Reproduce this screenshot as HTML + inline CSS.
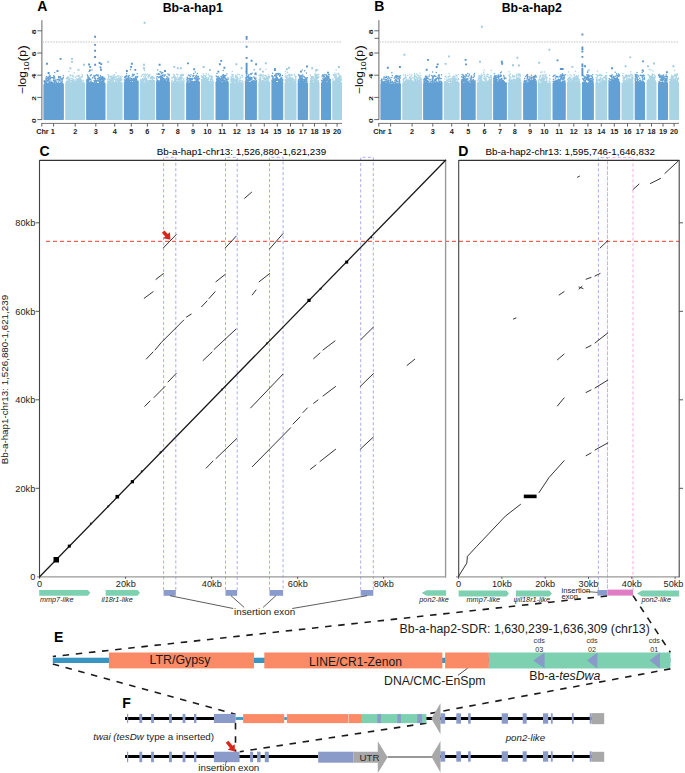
<!DOCTYPE html><html><head><meta charset="utf-8"><style>html,body{margin:0;padding:0;background:#fff;}svg{display:block;}text{font-family:"Liberation Sans",sans-serif;}</style></head><body><svg width="685" height="773" viewBox="0 0 685 773" font-family="Liberation Sans, sans-serif">
<rect width="685" height="773" fill="#fff"/>
<text x="37.2" y="11.2" font-size="14" text-anchor="start" font-weight="bold" font-style="normal" fill="#000" >A</text>
<text x="192.7" y="11.5" font-size="12.3" text-anchor="middle" font-weight="bold" font-style="normal" fill="#000" >Bb-a-hap1</text>
<text x="374.2" y="11.2" font-size="14" text-anchor="start" font-weight="bold" font-style="normal" fill="#000" >B</text>
<text x="531.8" y="11.5" font-size="12.3" text-anchor="middle" font-weight="bold" font-style="normal" fill="#000" >Bb-a-hap2</text>
<line x1="41.9" y1="20.2" x2="41.9" y2="119.8" stroke="#666" stroke-width="1"/>
<line x1="37.3" y1="119.6" x2="41.9" y2="119.6" stroke="#555" stroke-width="0.9"/>
<text transform="translate(35.6,120.6) rotate(-90) scale(1.15,0.6)" font-size="7.4" font-weight="bold" text-anchor="middle" fill="#222">0</text>
<line x1="37.3" y1="97.4" x2="41.9" y2="97.4" stroke="#555" stroke-width="0.9"/>
<text transform="translate(35.6,98.4) rotate(-90) scale(1.15,0.6)" font-size="7.4" font-weight="bold" text-anchor="middle" fill="#222">2</text>
<line x1="37.3" y1="75.2" x2="41.9" y2="75.2" stroke="#555" stroke-width="0.9"/>
<text transform="translate(35.6,76.2) rotate(-90) scale(1.15,0.6)" font-size="7.4" font-weight="bold" text-anchor="middle" fill="#222">4</text>
<line x1="37.3" y1="53" x2="41.9" y2="53" stroke="#555" stroke-width="0.9"/>
<text transform="translate(35.6,54) rotate(-90) scale(1.15,0.6)" font-size="7.4" font-weight="bold" text-anchor="middle" fill="#222">6</text>
<line x1="37.3" y1="30.8" x2="41.9" y2="30.8" stroke="#555" stroke-width="0.9"/>
<text transform="translate(35.6,31.8) rotate(-90) scale(1.15,0.6)" font-size="7.4" font-weight="bold" text-anchor="middle" fill="#222">8</text>
<line x1="42.4" y1="42" x2="342" y2="42" stroke="#c4c4c4" stroke-width="1" stroke-dasharray="1.6,1.1"/>
<line x1="41.3" y1="123.4" x2="342" y2="123.4" stroke="#777" stroke-width="1"/>
<line x1="41.8" y1="123.4" x2="41.8" y2="126.6" stroke="#555" stroke-width="0.9"/>
<rect x="43.4" y="84.1" width="20.5" height="35.8" fill="#63a0d3" rx="0.6"/>
<text x="54.8" y="133.6" font-size="7.3" text-anchor="end" font-weight="bold" font-style="normal" fill="#222" >Chr 1</text>
<line x1="53.6" y1="123.4" x2="53.6" y2="126.6" stroke="#555" stroke-width="0.9"/>
<rect x="65.2" y="83" width="19.9" height="36.9" fill="#a9d4e5" rx="0.6"/>
<text x="75.2" y="133.6" font-size="7.3" text-anchor="middle" font-weight="bold" font-style="normal" fill="#222" >2</text>
<line x1="75.2" y1="123.4" x2="75.2" y2="126.6" stroke="#555" stroke-width="0.9"/>
<rect x="86.1" y="83" width="19.4" height="36.9" fill="#63a0d3" rx="0.6"/>
<text x="95.8" y="133.6" font-size="7.3" text-anchor="middle" font-weight="bold" font-style="normal" fill="#222" >3</text>
<line x1="95.8" y1="123.4" x2="95.8" y2="126.6" stroke="#555" stroke-width="0.9"/>
<rect x="106.8" y="83" width="15.8" height="36.9" fill="#a9d4e5" rx="0.6"/>
<text x="114.7" y="133.6" font-size="7.3" text-anchor="middle" font-weight="bold" font-style="normal" fill="#222" >4</text>
<line x1="114.7" y1="123.4" x2="114.7" y2="126.6" stroke="#555" stroke-width="0.9"/>
<rect x="123.9" y="81.9" width="14.8" height="38" fill="#63a0d3" rx="0.6"/>
<text x="131.3" y="133.6" font-size="7.3" text-anchor="middle" font-weight="bold" font-style="normal" fill="#222" >5</text>
<line x1="131.3" y1="123.4" x2="131.3" y2="126.6" stroke="#555" stroke-width="0.9"/>
<rect x="139.8" y="82.4" width="15.3" height="37.5" fill="#a9d4e5" rx="0.6"/>
<text x="147.4" y="133.6" font-size="7.3" text-anchor="middle" font-weight="bold" font-style="normal" fill="#222" >6</text>
<line x1="147.4" y1="123.4" x2="147.4" y2="126.6" stroke="#555" stroke-width="0.9"/>
<rect x="156.1" y="81.3" width="13.8" height="38.6" fill="#63a0d3" rx="0.6"/>
<text x="163" y="133.6" font-size="7.3" text-anchor="middle" font-weight="bold" font-style="normal" fill="#222" >7</text>
<line x1="163" y1="123.4" x2="163" y2="126.6" stroke="#555" stroke-width="0.9"/>
<rect x="171" y="82.4" width="13.6" height="37.5" fill="#a9d4e5" rx="0.6"/>
<text x="177.8" y="133.6" font-size="7.3" text-anchor="middle" font-weight="bold" font-style="normal" fill="#222" >8</text>
<line x1="177.8" y1="123.4" x2="177.8" y2="126.6" stroke="#555" stroke-width="0.9"/>
<rect x="186.1" y="82.4" width="13.8" height="37.5" fill="#63a0d3" rx="0.6"/>
<text x="193" y="133.6" font-size="7.3" text-anchor="middle" font-weight="bold" font-style="normal" fill="#222" >9</text>
<line x1="193" y1="123.4" x2="193" y2="126.6" stroke="#555" stroke-width="0.9"/>
<rect x="200.9" y="82.4" width="13" height="37.5" fill="#a9d4e5" rx="0.6"/>
<text x="207.4" y="133.6" font-size="7.3" text-anchor="middle" font-weight="bold" font-style="normal" fill="#222" >10</text>
<line x1="207.4" y1="123.4" x2="207.4" y2="126.6" stroke="#555" stroke-width="0.9"/>
<rect x="215.5" y="82.4" width="13.3" height="37.5" fill="#63a0d3" rx="0.6"/>
<text x="222.2" y="133.6" font-size="7.3" text-anchor="middle" font-weight="bold" font-style="normal" fill="#222" >11</text>
<line x1="222.2" y1="123.4" x2="222.2" y2="126.6" stroke="#555" stroke-width="0.9"/>
<rect x="230" y="82.4" width="13.6" height="37.5" fill="#a9d4e5" rx="0.6"/>
<text x="236.8" y="133.6" font-size="7.3" text-anchor="middle" font-weight="bold" font-style="normal" fill="#222" >12</text>
<line x1="236.8" y1="123.4" x2="236.8" y2="126.6" stroke="#555" stroke-width="0.9"/>
<rect x="244.9" y="81.9" width="12" height="38" fill="#63a0d3" rx="0.6"/>
<text x="250.9" y="133.6" font-size="7.3" text-anchor="middle" font-weight="bold" font-style="normal" fill="#222" >13</text>
<line x1="250.9" y1="123.4" x2="250.9" y2="126.6" stroke="#555" stroke-width="0.9"/>
<rect x="258.4" y="82.4" width="11.8" height="37.5" fill="#a9d4e5" rx="0.6"/>
<text x="264.3" y="133.6" font-size="7.3" text-anchor="middle" font-weight="bold" font-style="normal" fill="#222" >14</text>
<line x1="264.3" y1="123.4" x2="264.3" y2="126.6" stroke="#555" stroke-width="0.9"/>
<rect x="271.4" y="81.9" width="11.8" height="38" fill="#63a0d3" rx="0.6"/>
<text x="277.3" y="133.6" font-size="7.3" text-anchor="middle" font-weight="bold" font-style="normal" fill="#222" >15</text>
<line x1="277.3" y1="123.4" x2="277.3" y2="126.6" stroke="#555" stroke-width="0.9"/>
<rect x="284.5" y="82.4" width="12" height="37.5" fill="#a9d4e5" rx="0.6"/>
<text x="290.5" y="133.6" font-size="7.3" text-anchor="middle" font-weight="bold" font-style="normal" fill="#222" >16</text>
<line x1="290.5" y1="123.4" x2="290.5" y2="126.6" stroke="#555" stroke-width="0.9"/>
<rect x="297.7" y="82.4" width="10.3" height="37.5" fill="#63a0d3" rx="0.6"/>
<text x="302.9" y="133.6" font-size="7.3" text-anchor="middle" font-weight="bold" font-style="normal" fill="#222" >17</text>
<line x1="302.9" y1="123.4" x2="302.9" y2="126.6" stroke="#555" stroke-width="0.9"/>
<rect x="309.5" y="82.4" width="10" height="37.5" fill="#a9d4e5" rx="0.6"/>
<text x="314.5" y="133.6" font-size="7.3" text-anchor="middle" font-weight="bold" font-style="normal" fill="#222" >18</text>
<line x1="314.5" y1="123.4" x2="314.5" y2="126.6" stroke="#555" stroke-width="0.9"/>
<rect x="321" y="82.4" width="10" height="37.5" fill="#63a0d3" rx="0.6"/>
<text x="326" y="133.6" font-size="7.3" text-anchor="middle" font-weight="bold" font-style="normal" fill="#222" >19</text>
<line x1="326" y1="123.4" x2="326" y2="126.6" stroke="#555" stroke-width="0.9"/>
<rect x="332.2" y="81.9" width="9.8" height="38" fill="#a9d4e5" rx="0.6"/>
<text x="337.1" y="133.6" font-size="7.3" text-anchor="middle" font-weight="bold" font-style="normal" fill="#222" >20</text>
<line x1="337.1" y1="123.4" x2="337.1" y2="126.6" stroke="#555" stroke-width="0.9"/>
<path d="M59 79.5h0M60.7 82.9h0M58.7 77.5h0M60.3 83.6h0M60.2 77.4h0M60.9 78.5h0M63.3 75.8h0M61.3 78.9h0M59.9 84h0M59.9 80.1h0M61.1 82.5h0M60.7 84h0M59.2 77h0M54.3 84.1h0M55.5 81.6h0M54.9 80.4h0M54.5 82.6h0M53.8 78.7h0M53.7 80.3h0M54 83.6h0M54.8 83.8h0M54.6 84h0M53.7 77.3h0M44.6 82.1h0M46.9 79.7h0M46.1 82.8h0M46.3 78.4h0M45.9 79.8h0M46 83.7h0M46 83.9h0M45.6 81.1h0M44.6 81.8h0M46.1 83.6h0M47.2 80.6h0M46.3 83.1h0M50.2 79.1h0M49.6 82.8h0M49.4 74.9h0M48.1 83.9h0M48.4 83.2h0M49.2 79h0M49.5 76.7h0M49 82.7h0M49.7 78.7h0M50.5 78.8h0M49.5 83.3h0M47.5 83.2h0M48.2 81.1h0M50 83.8h0M55.8 80h0M47.1 81.1h0M54.7 80.4h0M51.5 82.4h0M45.5 84.1h0M46.1 82.2h0M48.9 79.8h0M51.6 82.8h0M61.5 82.3h0M54 77h0M62.9 84h0M53.3 80.8h0M55.9 84.1h0M48.1 77.2h0M58.5 84.1h0M51.9 83.7h0M44.9 83.6h0M54.2 76.2h0M45.8 84h0M52.7 83.3h0M58.1 82.1h0M62.3 81.5h0M61.8 82.5h0M50.9 83.4h0M44.6 81.4h0M45.4 84.1h0M50 84h0M45.4 82.6h0M51.1 84.1h0M62.1 79.8h0M46.5 76.4h0M50.6 84h0M53.1 84h0M60.5 76.7h0M44.6 82.3h0M44.3 80.7h0M51.3 84.1h0M45.4 84h0M46.2 83.7h0M52 83.4h0M62 80.4h0M52.8 82.6h0M54.4 82.1h0M53.9 83.4h0M45.7 84.1h0M62.5 84h0M59.1 80.7h0M53.4 77.5h0M51.1 84h0M55.8 82.1h0M58.5 83.3h0M62 82.3h0M48.7 82.9h0M48.8 81h0M59.5 79.6h0M47.9 83.8h0M48.2 77.1h0M48.1 84h0M50.8 77.5h0M44.8 84.1h0M62.9 78.7h0M46.2 82.5h0M61.9 78.5h0M51.4 82.1h0M57 80.1h0M60.2 81.1h0M50.2 78.6h0M49.4 81.3h0M57.1 83.6h0M50.8 80.9h0M54.9 81h0M51.8 83.9h0M58.8 83.6h0M59 79h0M63 84h0M46.1 82h0M56.4 83.2h0M45.5 83.8h0M59.9 83.7h0M57.8 79.6h0M54.3 84.1h0M48.4 79.3h0M54.4 76.7h0M53.7 75.8h0M47.1 78.3h0M57.5 83.8h0M51.9 77.6h0M51.5 82.6h0M47.8 77.7h0M44.1 81.8h0M56.6 82.2h0M59.8 83.3h0M50.3 76.1h0M45.9 78h0M59.4 77.1h0M46.4 83.7h0M51.5 84h0M50 76.2h0M62 83.6h0M57.9 84.1h0M53.7 84.1h0M50.6 82.8h0M49.3 77.2h0M48.2 78h0M52.3 84.1h0M54.3 80.4h0M61.7 82.5h0M63.3 77.5h0M54 80.5h0M52.5 77.8h0M58.5 76.6h0M54.8 72.6h0M54.8 77.9h0M101.1 78.8h0M101.9 82.7h0M102.8 80.9h0M102.2 79.9h0M100.8 82.7h0M103.5 82.2h0M101.2 81.8h0M101.1 79.6h0M101.1 82.5h0M100.6 81.5h0M101.3 82.6h0M100.3 79.7h0M98.1 76.1h0M96.3 80.8h0M96.5 74.7h0M98.1 75.1h0M97 80.3h0M98.1 80.3h0M96.1 81.7h0M97.7 78.5h0M97.4 75.7h0M95.6 78.5h0M97.9 75.3h0M98.8 81h0M88 82.9h0M88.3 77.5h0M86.7 81.3h0M88.2 79.7h0M87 82.5h0M88.3 81.3h0M89.2 82.6h0M87.8 77.7h0M86.7 80.1h0M88.4 77h0M86.8 81.1h0M102.3 80.5h0M99.3 79.2h0M100.7 77.8h0M99.2 79.4h0M102.3 78.2h0M101.9 78h0M99 77.5h0M100.2 79.2h0M99.9 77.4h0M101.1 79.4h0M101.8 79h0M100.5 80.1h0M102.1 81.7h0M102.1 78.7h0M100.2 81.5h0M102.6 77.4h0M103.3 78.5h0M102.4 78.2h0M90.3 82.1h0M97.4 80.3h0M95.3 81.1h0M94.7 76.5h0M94 76.2h0M103.8 80h0M103.8 80.7h0M102.2 81.3h0M94 75.4h0M98.7 78.3h0M88.4 77h0M94 82.7h0M89.1 77.9h0M104.5 77.9h0M100.8 78h0M87.8 76h0M102.9 76.8h0M103.2 81.5h0M91.2 81.7h0M102.6 81.8h0M100.7 82.9h0M103.2 77.7h0M89.1 78.7h0M98 81h0M87.7 80.5h0M89.9 82.7h0M103.4 82.8h0M89 82.1h0M97.9 80.9h0M102.9 79.2h0M88.2 78.6h0M96.6 81.1h0M87 82.8h0M90.2 79.4h0M100.9 81.6h0M87.4 81.8h0M95.7 75.6h0M104.2 82.3h0M94.1 80.7h0M104.9 79.6h0M87.9 82.9h0M89.3 79.5h0M99 78.6h0M101 82.9h0M94.8 76.9h0M99.7 81.3h0M92 82.9h0M100.7 77.1h0M102.1 78.9h0M103.1 82.8h0M98.1 75.7h0M100.3 75.5h0M100.4 80.7h0M88.3 82.8h0M93.6 82.9h0M92.3 82.5h0M95.3 79.8h0M94.8 82h0M88.6 80h0M89.1 80h0M90 82.7h0M87.4 81.4h0M99.5 82.9h0M87.3 74.9h0M94.6 78.3h0M92.9 77.5h0M103.6 82.9h0M90.4 82.8h0M99.3 81.3h0M103.5 80h0M99.9 80.1h0M92.5 78h0M91.2 74.9h0M96.3 82.5h0M90.1 82.4h0M94.7 80.7h0M90.4 82.2h0M92 82.9h0M99.7 82.6h0M96.5 82.4h0M91 80.1h0M96 80.5h0M90.3 75.8h0M104.9 79.1h0M103.7 80.6h0M87.2 79.6h0M100.8 82.9h0M95.4 81.8h0M92.8 82.9h0M102.6 82.5h0M102.8 81.5h0M100 82.6h0M97.1 80.8h0M87.9 76.1h0M89.8 78.6h0M103 82.2h0M89.1 71.6h0M92 69.9h0M91.2 74.6h0M101.7 76.7h0M127.4 78.3h0M125.3 76.5h0M124.5 77.3h0M125.7 80.6h0M126.2 76.6h0M126.1 76.2h0M126.4 75.6h0M126.5 81.3h0M128.1 78.9h0M135.8 77.5h0M135.4 79.9h0M135.8 80.8h0M136.5 78.6h0M136 81.8h0M135.4 79h0M137 81.3h0M135.6 77.8h0M134.9 78.2h0M125.5 81.4h0M126.5 79.6h0M126.4 80.3h0M127.2 79.1h0M128.3 78.3h0M128.6 79.8h0M128.8 78.3h0M126.9 78.8h0M128.9 79.4h0M130.4 78h0M129.6 81.6h0M131.1 80.2h0M129.1 80.4h0M129.7 80.7h0M128.5 81.4h0M129.4 80.3h0M128.7 79.1h0M129.5 81h0M130.3 80.2h0M130 81.4h0M127.8 79.6h0M128.5 78.9h0M129.8 81h0M125.4 80.7h0M125.2 80.1h0M132.5 80.3h0M128.9 81.5h0M124.8 81h0M136.6 79.5h0M128.1 78.4h0M127 80.3h0M132.9 74.3h0M129.4 79.4h0M137.3 77.2h0M133 78.9h0M130.1 80.7h0M128.3 76.3h0M136.5 80.9h0M136.9 81.9h0M126.3 80h0M128.7 81h0M137.8 81.7h0M127.1 81.5h0M133.8 81.5h0M124.5 79.7h0M129.9 81.5h0M131.2 78.6h0M132 78.9h0M132.1 76.3h0M137.7 81.1h0M129.2 75.5h0M128.8 77.9h0M134 78.2h0M137.6 76.4h0M126.7 78.9h0M131.2 79.5h0M129.5 81.3h0M134.7 79.8h0M127.7 81.5h0M128.9 81.7h0M131.5 81.8h0M125.4 81.8h0M125.9 78h0M126 80.4h0M135 80.2h0M126.7 75.8h0M136.3 81.8h0M128 80h0M135.3 80.8h0M134.2 81.5h0M134.2 81.1h0M129 77.3h0M136 76.4h0M132.2 80.6h0M134.1 78.9h0M135.8 76.7h0M126.2 80.9h0M133.6 81.5h0M127 81.9h0M132.5 74.6h0M137.7 81.8h0M133.9 80.6h0M133.1 80.8h0M137.2 73.7h0M125.2 77.9h0M126.1 81.9h0M128.4 77.7h0M138 81.8h0M129 81.9h0M127 76.1h0M130.5 69.5h0M133.3 75.5h0M134.2 74.6h0M126.6 73.4h0M133.6 75.5h0M162.2 80h0M160.9 79.2h0M160.8 77.1h0M161.2 76.4h0M160.9 81.3h0M161.5 78.8h0M161.5 77h0M162.5 79.6h0M160.8 80.8h0M163.2 80.8h0M160.3 76.5h0M161.7 77.9h0M163.3 78.2h0M161 76.6h0M164.6 81.2h0M161.5 79.8h0M161.4 79.3h0M161.7 78.5h0M164.1 76.4h0M166.2 79.6h0M161.9 77.3h0M161.4 76.3h0M160.9 81.1h0M161.3 78.3h0M160 77.2h0M160.4 80.7h0M158.4 74.2h0M162.7 75.2h0M159.7 74.3h0M161.1 72.3h0M158.7 77.5h0M160.6 80.3h0M160.6 76.1h0M162.6 78.5h0M161.6 78.5h0M163.1 79.9h0M162.8 78.7h0M162.6 80.8h0M162.6 81h0M160.5 76.9h0M161.4 80.2h0M161.1 80.4h0M161.7 79h0M160.2 76.4h0M161 80.9h0M158.7 73.5h0M163.3 80.2h0M164.4 75.3h0M168.8 80.1h0M156.8 81.2h0M167 77.1h0M165.7 81.2h0M163.4 81.3h0M158.1 80.7h0M168.9 78.2h0M167.4 81.3h0M161.9 81.3h0M160 81.2h0M168.3 80.6h0M162.9 78h0M167.9 73.9h0M163.9 79.5h0M168.1 80.2h0M160.5 77h0M160 80.4h0M162.1 79.7h0M161.2 80h0M162.4 81.3h0M167.2 81.3h0M163.4 79.1h0M161.7 81h0M157.9 80.4h0M160.7 79.6h0M159.6 76.9h0M162.8 81.3h0M161.8 73.6h0M156.8 78.7h0M168.8 80.4h0M164.2 80.4h0M160.5 78.5h0M164.1 80.6h0M163 79.4h0M166.2 81.3h0M157.9 80.9h0M160.1 76.3h0M162.1 75.3h0M161.8 80.8h0M165.3 81.3h0M169.1 75.8h0M160.8 80.6h0M167 76.4h0M164.8 81.3h0M166.3 81.3h0M164.6 79.1h0M168.4 78.2h0M157 74.1h0M166.2 78.8h0M156.8 77.1h0M162 77.7h0M169.1 74.4h0M157.6 76.5h0M162.3 76.9h0M161.5 79.9h0M162.2 81.2h0M160.7 77.1h0M157.6 81.2h0M167.2 77.9h0M163.6 81.2h0M158.2 80.7h0M168.7 79h0M168.3 81h0M161.9 79.2h0M167.3 81.2h0M167.7 79.7h0M157.1 80h0M161.5 77.8h0M168.4 79.5h0M165.4 80.3h0M166.5 81.2h0M166.1 81.1h0M164.1 81.1h0M161.1 81.1h0M161.1 78.7h0M163.3 80.3h0M161.3 72.8h0M162.8 72.5h0M165.4 74.9h0M160.1 71.4h0M163.9 74.8h0M157.7 70h0M189.6 78.4h0M191.7 79.6h0M188.1 78.2h0M190.8 82h0M191.7 79.3h0M186.9 79.5h0M190.1 80h0M190.1 81.4h0M187.2 80.7h0M189.1 78.8h0M189.3 79.6h0M189.9 82.4h0M197.3 80h0M198 77.7h0M197.4 73.4h0M199.3 78.8h0M196.1 78.7h0M196.6 81.1h0M199.3 82.3h0M196.8 75.7h0M197.7 81.4h0M198.2 81.3h0M197.9 82.3h0M197.2 80.9h0M196.8 80.6h0M196.6 81.6h0M197.6 77h0M196.3 79.1h0M196.2 77.8h0M195.7 81.6h0M197.5 78.7h0M197.8 80h0M195.7 76.2h0M196.1 79.6h0M195.8 76.6h0M195 78.4h0M193.8 75.5h0M196.3 75.3h0M190.7 80.1h0M191.8 78.6h0M191 79.3h0M194.7 82.4h0M192.7 82.3h0M196.1 77.3h0M194.9 78.8h0M195.1 81.3h0M193 76.6h0M193.9 82.4h0M190.7 79.3h0M187.5 82.3h0M187 80.3h0M187.3 81.9h0M187.3 79.9h0M191.7 82.4h0M189.2 79.4h0M188 81.6h0M187.4 82.4h0M197.5 82.3h0M190.7 79h0M193 75.4h0M194.8 78.7h0M192.3 81.8h0M195.1 82.3h0M189.8 78.3h0M190.1 81.8h0M197.8 82.3h0M192.7 78.4h0M187.3 77.2h0M198.7 79.1h0M192.6 79.3h0M195.2 81.3h0M198.5 76.4h0M199 82.3h0M190 81.9h0M191.6 82h0M194.4 77.7h0M190 78.5h0M194.9 78h0M195.1 81.1h0M191.8 81.3h0M196.2 82.4h0M190 80.7h0M198.3 82.1h0M195.7 82.4h0M197.8 80.6h0M199 82.1h0M194.5 82.3h0M188.6 81.1h0M192.6 78.7h0M187 82h0M196.4 82.4h0M190.8 82.4h0M187 80.3h0M194 81.8h0M192.5 82.4h0M188.1 82.1h0M199.2 82.4h0M187.9 78.6h0M187.3 77.9h0M193.3 81.9h0M198.5 81.5h0M192.2 81.3h0M191 74.8h0M190.4 76.4h0M197.5 80.3h0M189.4 75.5h0M196.6 75.5h0M188.4 75h0M195.3 72.1h0M193.7 73.5h0M223.2 78.8h0M223.8 76.3h0M224.4 78.1h0M223.5 79.1h0M224.5 80.5h0M221.7 82.4h0M222.4 81.3h0M224 81.8h0M225 78h0M220.7 81.7h0M223.4 81.7h0M224.2 81.8h0M223.1 81h0M223.6 78.6h0M221.8 77.7h0M225.8 75.4h0M223.5 76.8h0M223.4 82.4h0M224.2 77.3h0M224.3 75.6h0M222.9 77.6h0M222.3 79.6h0M224.8 77.6h0M225.2 80.8h0M219.1 81.8h0M218.8 78.9h0M219.7 79.6h0M220.5 79.9h0M218.5 81h0M218.5 82.3h0M217.4 80.6h0M217.7 82.3h0M219.7 82.4h0M220.6 81.7h0M217.9 79.8h0M227.2 82.2h0M222.2 80.6h0M225.4 80h0M219 82.2h0M224.9 82.4h0M226.6 82.4h0M218.4 80.9h0M226.3 79.5h0M225.1 77.8h0M224.8 82.4h0M226.1 82.3h0M218.1 82.4h0M216.4 76.2h0M220.7 82.4h0M216.7 76.6h0M223.4 75.5h0M216.6 82.3h0M219.6 82.2h0M217.5 82.2h0M223.8 82.3h0M218.1 80.3h0M220.6 82.3h0M223 80.5h0M220.8 80.8h0M216.6 79.6h0M218.4 81.7h0M216.2 76h0M223.2 81.4h0M222.7 75.2h0M217.7 81.4h0M224.7 81.5h0M224.7 75.7h0M216.6 81.9h0M219.6 78h0M225.6 78.6h0M227.3 82.2h0M220.9 76.5h0M225.4 82.3h0M228 78.1h0M226.6 81.5h0M223.4 74.8h0M227 79.9h0M226.9 74.1h0M226.3 79.1h0M227.7 82.3h0M221 80.1h0M217.7 77.6h0M216.9 79.4h0M219.5 81.7h0M223.4 82.2h0M221.5 76.5h0M228 82h0M220.5 78.7h0M218.4 76.6h0M218.5 80.1h0M220.2 82.4h0M216.1 82.4h0M220.1 81.9h0M228.1 79.3h0M216.9 78.4h0M218.9 80.7h0M224.8 76.5h0M227.4 81.2h0M219.9 81.3h0M219.9 78.1h0M221.7 78.8h0M217.9 77.6h0M227.8 82.2h0M223.6 82.3h0M216.5 81.2h0M218.3 78.2h0M223 78.9h0M227.8 82.4h0M217.3 82.4h0M221.7 77h0M224.4 80.2h0M226.5 81.5h0M217 73.4h0M221.9 76.5h0M223.2 70.5h0M252.1 79h0M254.5 77.9h0M250.3 78.6h0M250 78.4h0M252.4 81.3h0M250.9 79.4h0M251.8 78.2h0M251.5 77.7h0M250.6 77.5h0M248.8 78.4h0M245.5 81.5h0M247.3 79.5h0M247.4 79.2h0M246.4 80.6h0M246.5 80.2h0M245.7 77.7h0M248.1 77.6h0M246.5 79.8h0M247.1 79.2h0M248.4 80.7h0M249.3 78.2h0M248.5 81h0M248.4 79.1h0M247.9 76.1h0M248 77.2h0M247.5 77.2h0M248.5 76.2h0M248.9 77.3h0M256.3 80.4h0M252.9 81.6h0M256.3 81.9h0M256.3 81.6h0M253.1 80.7h0M256.1 80.4h0M254 77.1h0M253.9 76.9h0M251 74.4h0M255 74h0M253 81.7h0M251.2 79.5h0M255.5 79.6h0M255.2 78.4h0M247.9 81h0M246.4 81.6h0M246.7 77h0M246.1 78.2h0M252.2 81.1h0M247.5 81.1h0M250.3 77.2h0M247.5 76.5h0M255.7 81.6h0M249.6 80.3h0M246.5 76.2h0M246 80.1h0M246.5 81.8h0M256 74.7h0M246.2 81.3h0M249.2 79.8h0M246.5 76h0M249.1 74.8h0M247.9 80.4h0M255.3 81.8h0M251.8 81.2h0M246.4 80.7h0M254.2 81.9h0M248.7 75.1h0M254.2 80.8h0M246.3 75.9h0M250 80.7h0M249.9 79.2h0M250.2 80h0M253.9 81.2h0M248.4 81.3h0M255.5 79.7h0M249.5 80.4h0M246 79.3h0M254.1 81.8h0M252.2 81.9h0M253.7 81.7h0M248.1 76.7h0M251.9 77.6h0M245.8 81.9h0M251.3 81.7h0M250 80.7h0M254.5 78.6h0M246.5 80.8h0M248.4 80.8h0M256 78.1h0M254 81.7h0M250.5 73.8h0M251.7 73.8h0M254.2 69.8h0M246.2 71.7h0M252.1 73.3h0M282.6 80.3h0M279.7 79.7h0M280.1 79.5h0M281.1 78.3h0M280.6 79.1h0M281.7 77.5h0M280.9 78h0M281.2 79.6h0M279.1 79.8h0M281.2 81.9h0M282.6 79.7h0M282.5 81.2h0M281.4 80h0M278.2 80h0M280.2 79.9h0M280.3 75.6h0M278.7 79.3h0M279.5 73.7h0M279.5 75.8h0M281 81.6h0M279.3 80.9h0M272 80.3h0M275.4 81.5h0M275.2 81.1h0M273.1 78.1h0M272 75.6h0M273.7 80.1h0M273.4 79h0M274.1 79.8h0M272 80.5h0M272 81.3h0M272 76.2h0M276.5 76.6h0M276.7 79.2h0M273 81.7h0M272.6 81.6h0M276.3 80.6h0M276.8 80.3h0M275 81.6h0M273.9 79.8h0M275 78.8h0M274.1 79.3h0M273.9 81.7h0M276.2 77.5h0M277 75.2h0M276.6 79.3h0M278.2 80.3h0M276.1 78.3h0M276.9 73.7h0M278.4 80.5h0M278.4 73.6h0M275.6 74.9h0M272.5 78.8h0M276.9 77.8h0M282.4 81.5h0M272.7 80.4h0M277.9 73.6h0M274.6 80.3h0M275.7 76.1h0M280.8 80.6h0M282.1 81.9h0M275 81.9h0M274.7 75.2h0M282.6 79.2h0M278.2 80.4h0M276.2 79.9h0M278.7 81.7h0M281.4 78.5h0M281.4 81.7h0M277.2 77.7h0M280.8 81.2h0M274.1 80.5h0M276.9 80.5h0M273.4 81.4h0M280.2 74.1h0M275.1 81.6h0M280.2 75.5h0M275.2 79.6h0M282.5 75.4h0M278 79h0M277.9 79.8h0M275.9 73.7h0M280 80.2h0M274.2 81.8h0M276 80h0M280.4 74.5h0M273.3 78.9h0M280.7 78.3h0M279.6 81.8h0M277.4 78.6h0M273.1 81.8h0M272.8 81.8h0M276.7 78.3h0M280.7 75h0M278.5 74.5h0M278.1 79.7h0M272.2 81h0M273 77.4h0M273.4 81.8h0M273.7 81.6h0M275.7 76.1h0M277.4 80.3h0M274.2 80.7h0M273 76.4h0M276.2 78.7h0M275.7 81.1h0M274 81.6h0M282.4 79.8h0M279.7 79.5h0M274.8 81.6h0M279.9 76.6h0M274.2 79.6h0M273.8 79.6h0M272.3 76.8h0M275.4 75.9h0M272.6 73.2h0M274.7 76h0M298.7 79.9h0M298.8 80.5h0M302.2 78.4h0M300.6 78.7h0M298.9 80.2h0M298.9 79.3h0M299.7 77.8h0M299 80.1h0M298.4 80.9h0M298.3 82.4h0M300.7 80.3h0M300.8 82.4h0M301.7 81.2h0M301.1 80.2h0M302.7 80.3h0M301.7 80.4h0M304.3 79.8h0M303 79.9h0M301.7 82.2h0M302 78.3h0M304.2 80.9h0M304.1 82h0M301.3 80.1h0M301 82.2h0M299.5 76.7h0M302 76.5h0M301.6 76.6h0M301.4 76.3h0M302.6 78.1h0M300.5 82.1h0M301.1 81.3h0M299.6 79.3h0M301 77.8h0M299.6 79.7h0M300.5 76h0M298.8 74.6h0M305.3 78.7h0M303.3 82h0M299.2 79.1h0M300.6 79.6h0M303.3 79.6h0M302.2 82.1h0M301.1 78.7h0M306.4 81.7h0M301.2 81h0M302.2 79.4h0M305.2 77.8h0M305.7 78.3h0M307.1 81h0M302.4 79.2h0M301.2 76.9h0M302.1 80.1h0M303 81.5h0M298.4 81.9h0M302.6 75h0M299.5 75.8h0M307.2 77.4h0M300.8 82.4h0M306.3 82.4h0M301 75.2h0M304.4 77h0M305.9 82.2h0M302.9 82.4h0M301.7 80.6h0M305.7 81.9h0M304.4 82.3h0M300.6 82.4h0M303.6 79.8h0M304.8 81.2h0M306.8 78.3h0M303.5 76.2h0M299.9 81.9h0M303.3 79.7h0M307 78.9h0M298.7 75.1h0M302.6 82.2h0M305.2 79.4h0M306.1 80.2h0M300.6 80.8h0M302.5 81.6h0M303.6 82.3h0M300.6 82.3h0M298.5 80.4h0M305 81.3h0M306.5 79.6h0M304.3 81.9h0M306.5 81.6h0M306 82h0M307 78.8h0M299.9 78.2h0M299.7 81.4h0M301.7 81.7h0M301.6 82.3h0M301.9 82.4h0M305.5 81.6h0M302.2 69.9h0M304.6 70.7h0M306.4 73h0M303.7 76.6h0M325.7 77.9h0M325.4 81.3h0M323.7 76.9h0M324.9 80.5h0M326 79.7h0M325.6 80.1h0M324.2 82.1h0M326.2 75.1h0M323.7 75.6h0M326.6 78.8h0M326.1 80.3h0M326.1 82.4h0M324.9 79.9h0M324.5 78.3h0M324.6 80.6h0M325.1 82.1h0M325.8 80.4h0M324.8 80.7h0M325.2 78.3h0M329.7 81.7h0M330.4 79.8h0M329.7 80.1h0M327.7 78h0M330.4 81h0M329.7 81.4h0M329.4 81.8h0M329.4 82.1h0M329.2 77.9h0M328.9 78.6h0M327.1 80.6h0M326.2 80.9h0M325.1 81h0M325.7 79.5h0M326.8 77.3h0M328.5 81.1h0M327.2 77h0M326.6 76.7h0M327.6 79.1h0M328.8 76.4h0M329.2 82h0M327.1 77.6h0M325.8 78.7h0M327.8 79.1h0M328.2 82.1h0M328.5 80.1h0M327.2 82.2h0M322.7 82.4h0M329.7 82.1h0M326.8 79.9h0M325.1 81.6h0M322.8 78.7h0M324.9 79.7h0M328.8 82.4h0M325.3 81.6h0M329.8 79.5h0M323.3 80.9h0M321.7 80.5h0M322.2 82.3h0M326.1 80.3h0M323.5 79.9h0M324.3 78.6h0M322.1 76.7h0M325.6 82.2h0M324.2 79.4h0M322.4 75.6h0M323.5 81.2h0M322.2 80.9h0M330.1 82.2h0M323.2 80.2h0M327.2 82.3h0M323.5 79.7h0M323.7 82.4h0M327.7 76.3h0M328.7 76.5h0M323.5 81.8h0M326.9 79.5h0M327.1 80.2h0M323.7 82.1h0M322.3 82.4h0M326.7 82.4h0M329.3 74.8h0M322.9 74.7h0M327.1 82.4h0M325 81.5h0M324.3 82.4h0M323.7 82.4h0M325.5 80.7h0M323.6 75.4h0M329.4 80.6h0M328.7 81.6h0M328.2 77.6h0M324.7 78.1h0M324.7 82.2h0M325.3 82.3h0M327.9 82h0M326 77.2h0M326.9 75.7h0M328 78.7h0M328.1 78.7h0M329.7 79.8h0M327.4 80.2h0M326.3 75.1h0M323.8 76.7h0M326.6 76h0M324.9 74.6h0M324.5 76.2h0M328.5 74.6h0" stroke="#63a0d3" stroke-width="1.5" stroke-linecap="round" fill="none"/>
<path d="M79.9 77.1h0M78.7 79.1h0M81.1 79.6h0M81.9 81.5h0M80.1 82.5h0M81.3 83h0M80.2 82.8h0M82.3 76.7h0M77.8 82.4h0M66.9 81.1h0M69.8 81.3h0M66.8 82.1h0M66.8 78.7h0M67.9 78.5h0M69.2 82.6h0M67.2 81.3h0M68.8 79.8h0M68 78.3h0M68.5 82.9h0M68 81.9h0M80.7 82.5h0M80.3 80.6h0M79.1 80.5h0M79.9 81h0M78.3 80.5h0M80 82.4h0M79.6 79.9h0M80.8 80.5h0M80.1 78.6h0M77.8 82.1h0M79 75.4h0M80.4 81.6h0M82 82.2h0M79.4 81.5h0M79.3 82.5h0M78.5 76.2h0M77.6 82.3h0M80.5 80.2h0M77.4 79.8h0M78 81.8h0M78 81.9h0M76.8 79h0M79.5 81.3h0M76.6 82.9h0M78.6 79.4h0M76.8 81.3h0M67.9 82.8h0M68.8 82.5h0M78.4 80.5h0M68.3 79.4h0M67.3 82.9h0M73.1 81.7h0M72.4 82.7h0M72.8 79.9h0M66.6 82.7h0M73.4 82.1h0M72.7 76h0M77.1 82.9h0M80.6 82.3h0M67.4 77.3h0M82.2 76.2h0M83.4 80.6h0M69.4 80.4h0M72.2 78.4h0M71 82.9h0M79.7 82.8h0M83.3 82.9h0M72 80.8h0M72.7 81.7h0M69.2 82.7h0M69.3 77.9h0M71.4 82.9h0M82.4 74.8h0M82.7 83h0M70.9 75.3h0M71.4 82.7h0M73.4 82.8h0M67.2 81h0M75.1 82.7h0M68 81.9h0M76.6 82.9h0M67.8 82.6h0M74.1 81.1h0M80 79.8h0M66 82.5h0M71 82.2h0M75.9 81.8h0M75.5 77.2h0M67.7 81.6h0M77.9 80.7h0M78.3 75.4h0M73 75.7h0M73 75.2h0M81.8 80.8h0M77 81.7h0M75 82.4h0M73.3 82.3h0M75.7 81.3h0M70.8 75.9h0M78.2 78.6h0M66.3 78.3h0M76.8 79.9h0M73.4 79.4h0M66.8 82.3h0M73.2 80.4h0M79.3 82.3h0M80.7 82.7h0M79.2 82.6h0M79.9 83h0M67.6 77.7h0M82.8 82.9h0M83.8 82.6h0M79 83h0M73.6 82.9h0M81.9 82.1h0M68.7 82.1h0M68.4 81.8h0M77 79.9h0M78.6 82.1h0M79.7 77.7h0M68.4 82.4h0M68.2 81.3h0M75.2 82.3h0M75.3 77.2h0M70.9 80.2h0M79.4 79.2h0M69.4 82.5h0M70.3 75.5h0M75.2 79.7h0M69.5 79.4h0M77.6 83h0M70.7 83h0M66.5 82.7h0M71 78.5h0M82.9 82.8h0M70.2 75h0M74.9 82.1h0M72.1 81.2h0M68.3 76.8h0M80.8 81.6h0M81.2 77.3h0M74.1 72.8h0M73.1 76.9h0M68.8 71.4h0M76.9 76.3h0M119.1 82.2h0M121.8 79.1h0M118.8 81.4h0M118.1 81h0M117.3 79.6h0M119.1 82h0M118.8 80.4h0M119.7 79.7h0M119.9 82.2h0M118.1 79.7h0M112.3 77.9h0M112.7 79.7h0M111.2 82.5h0M110.9 76.3h0M114.5 79.2h0M111.6 76.5h0M112.9 80h0M118.9 76.1h0M120.9 79.4h0M119 76.1h0M120.1 81h0M122 76.2h0M120.9 77.7h0M118.7 81.1h0M119.1 78.8h0M120.9 80h0M120.6 79.6h0M120 78h0M120.5 79.4h0M120.4 80.4h0M112.1 78.9h0M109.8 81.5h0M109 79.7h0M111.4 80.8h0M113 79.2h0M112.8 82.6h0M112.3 80.9h0M111.1 82.2h0M111 82h0M110.9 79.2h0M111.4 79.6h0M110.2 80.7h0M109.1 82h0M107.4 79h0M108.5 81.3h0M108.7 79.3h0M109.4 79.4h0M109.2 81.8h0M110.6 81.3h0M109.6 78.9h0M110.6 82.4h0M110.2 76.7h0M108.1 82.9h0M118 82.3h0M120.5 76.8h0M117.8 82.9h0M117.6 75.7h0M113.9 82.9h0M110.7 82.3h0M117.8 82.7h0M110 82.6h0M117.1 78h0M112.8 79.6h0M120.3 80.4h0M110.7 82.4h0M120.9 79.6h0M111.4 79.9h0M108.7 75h0M113.8 80.9h0M115.1 83h0M116.2 82.4h0M111.1 77.8h0M108.7 82.4h0M118.4 82.6h0M111.5 80.8h0M110.1 76.4h0M121.8 83h0M114.1 78.5h0M113 75.9h0M114.7 82.8h0M115.5 79.8h0M112.7 79.7h0M118.8 81h0M114.8 77.2h0M117.4 81h0M121.3 82.8h0M118.8 82.8h0M116.3 82.6h0M113.8 78.2h0M118.9 78h0M110.8 81.2h0M110.6 80.5h0M114.7 83h0M116.1 79h0M115.8 76.8h0M110 82.8h0M107.7 81.2h0M113.7 81.6h0M111.2 77.9h0M108.5 76.2h0M115.7 80.8h0M119 82.6h0M109.5 82.3h0M108 82.3h0M116.5 80.9h0M111.3 80.4h0M108.7 77.6h0M109.9 82.6h0M109.7 79.3h0M119.5 78.1h0M108.3 81.8h0M112.7 82.7h0M121.6 83h0M114.5 78.4h0M121.8 82.9h0M114 78.6h0M108 82.6h0M120.4 82.9h0M113.1 82.4h0M113.6 82.9h0M107.9 74.7h0M118.5 78.8h0M110.8 82.6h0M115.5 82.6h0M114.1 75.8h0M112.7 82.2h0M121.7 80.2h0M108 81.8h0M116.9 83h0M112.4 79.2h0M120 80.4h0M120.3 81.4h0M113.1 77.3h0M113 78.1h0M110.5 82.2h0M110.1 80.7h0M109.8 82.7h0M116 72.7h0M114.3 75.2h0M116.5 76.8h0M114.5 74.8h0M152.2 78.3h0M150.1 78.4h0M150.8 78.4h0M151.7 81.4h0M150.6 80.8h0M151 81.2h0M152.1 80.1h0M151.8 80.1h0M142.6 81.9h0M143.3 80.8h0M143.6 79.1h0M142.8 80.8h0M140.9 81.1h0M143.9 82.3h0M141.1 80.2h0M142.3 81.6h0M145 78.5h0M141.9 80.9h0M143.8 81.9h0M141.1 82.4h0M143.1 82.2h0M146.1 82.1h0M143.1 82.1h0M146.1 80h0M145.7 80.9h0M144.6 75.1h0M144.5 78.6h0M145.6 77.5h0M146.2 75h0M143.6 79.1h0M153.5 81.4h0M152.2 80.4h0M150.8 77.6h0M153.3 80.6h0M151.2 81.1h0M151.1 77h0M151.7 80.8h0M152.5 78.1h0M152.4 79.4h0M153.9 78.5h0M152.2 81.8h0M146.5 82.4h0M147.5 81.3h0M144.9 80.3h0M153.8 82.2h0M152.8 81.7h0M151 82.4h0M154.3 81.1h0M154 82.1h0M146.2 78.5h0M142.9 81.9h0M149.9 75h0M144.9 82.2h0M145.4 74.3h0M142.5 79.4h0M145.7 79.3h0M143.4 79.5h0M152.9 76.5h0M149.3 80.6h0M148.4 82.3h0M152.2 78.7h0M146.8 79h0M146.3 81.4h0M143.6 79.7h0M148.5 80.5h0M140.9 79.4h0M146.7 79.8h0M148.8 75.3h0M142.5 80.8h0M154.4 78.1h0M144.8 78.2h0M154.4 81.3h0M152.6 82.3h0M154.4 80.7h0M143.7 76.7h0M149.6 75.2h0M152.1 77.4h0M147.6 74.2h0M141.3 76.3h0M150.4 82h0M151.8 80.9h0M148 76.4h0M143.2 81.9h0M149.5 82.4h0M148.2 77.5h0M147.3 82h0M151.7 76.5h0M151.3 80.2h0M153.2 77.4h0M142.5 81.5h0M141.8 82.4h0M145.3 76.4h0M152.2 82.3h0M143 81.4h0M152.4 79.5h0M153.1 82.4h0M154.3 82.2h0M149.3 76.2h0M150.7 82.2h0M149.8 81.1h0M140.6 81.6h0M144.8 79.4h0M144.3 79.7h0M150.2 82.2h0M142.2 78.7h0M147 82.3h0M142 75.1h0M149 81.5h0M143.2 74.2h0M150.2 78.2h0M145.5 81.8h0M146.2 82.3h0M149.3 81.1h0M152 81.3h0M146.8 80.6h0M153.7 81.6h0M150.3 82.1h0M144.5 70h0M144.5 70.4h0M149.9 74.8h0M175.5 80.7h0M175.1 80h0M174.4 81.7h0M175.2 79.6h0M174.2 81.9h0M173.5 77.4h0M174.4 80.3h0M175.4 80.3h0M171.8 80.9h0M175.9 81.2h0M174.8 77.4h0M182.7 81.8h0M182.1 75.4h0M180.4 75.2h0M181.6 74.9h0M180.9 77h0M181.4 77h0M184 80.8h0M182 78.6h0M182.2 80.9h0M175.4 82.3h0M175.9 78.4h0M176 80.7h0M175.2 78.2h0M174.8 82.1h0M175.2 78.4h0M176.4 79h0M177.1 79.6h0M180.5 78.2h0M179 81.4h0M178.3 78.6h0M179.7 77.2h0M177.9 80.8h0M179.4 81.4h0M180 77.2h0M179.2 79h0M181.7 82.1h0M180.5 79.6h0M183.9 81.8h0M182.4 82.4h0M179.9 82.4h0M172 80h0M183.8 78.8h0M182.2 77.5h0M178.1 82.4h0M178.1 82.2h0M178.1 81.6h0M177.8 82.2h0M180.3 81.2h0M177.6 82.4h0M177.6 80.1h0M183.7 80.1h0M173.3 81.8h0M175.8 78.6h0M183.2 74.5h0M183.4 75.4h0M182.2 75.2h0M171.9 80.7h0M178.9 78.8h0M179.2 79.6h0M183.2 82.4h0M178 74.8h0M172 82.3h0M182.4 74.9h0M171.9 82.4h0M181.9 78.8h0M178 79.9h0M181 77.2h0M171.6 82.4h0M181.4 74.5h0M181.9 81.3h0M175.8 81.6h0M171.8 77.7h0M174.9 79.8h0M178.1 81.7h0M180 80.9h0M174.5 76.1h0M173.8 82.3h0M174.7 80.8h0M181.3 81.7h0M174.6 79.1h0M174.8 80.4h0M174.8 76.2h0M173.9 82.1h0M175.3 81.7h0M180.6 78.9h0M181.4 80.3h0M172.6 77.8h0M174.6 82.1h0M176.7 74.3h0M176.2 81.6h0M182.9 74.3h0M176.4 82.3h0M181.4 77.6h0M175.8 77.5h0M176.3 81.9h0M179 78.1h0M177.5 77.1h0M171.8 80.6h0M176.3 82.4h0M182.9 82.3h0M173.7 74.6h0M174.5 75.6h0M173.5 76.4h0M181.4 75.6h0M211.7 82.1h0M211.9 81.7h0M213.3 81.7h0M211.7 77.3h0M212.2 77.5h0M210.3 81.3h0M211.9 82.2h0M211.5 82.2h0M213.3 81.7h0M211.4 81.4h0M213.1 82.4h0M206.2 81.8h0M205.6 77.3h0M207.7 80h0M205.9 78.3h0M205.5 82.2h0M206.9 82.2h0M206.4 79.4h0M207.5 80.1h0M207.1 79.5h0M209.4 76.4h0M208.8 79.3h0M206.1 75.3h0M206.5 81.8h0M205 78.9h0M203.7 78.1h0M205.4 82.1h0M205.5 81.4h0M205.7 81.7h0M207 80.5h0M205.3 78.1h0M205.5 79.5h0M206.9 79.5h0M206.3 79.9h0M204.3 80.2h0M203.7 78.5h0M207.5 82.2h0M203.3 77.6h0M203.4 80.5h0M202.9 79.3h0M204.7 80h0M206.4 77.4h0M203.4 82.4h0M206 80.6h0M204.5 79.5h0M203.5 81.6h0M201.5 81.7h0M206.7 77.8h0M202.9 82.1h0M204.3 75.5h0M202.3 80.3h0M201.5 79.5h0M202.5 80h0M204.4 81.6h0M204.5 78.7h0M202.9 76.9h0M202.3 77.3h0M202.5 80.4h0M203.6 76h0M202.2 77h0M201.5 76.1h0M209.5 82.4h0M202.1 80.9h0M208.1 81h0M201.8 81.9h0M206.6 82.4h0M201.6 80.2h0M203.5 81.5h0M204 78.6h0M203.2 79.9h0M207.6 80.3h0M206.2 81.3h0M210.8 79.4h0M211.3 79.6h0M203.9 82.4h0M212.2 79.3h0M201.8 82.2h0M201.7 82.4h0M208.4 79h0M204.9 81.7h0M208.9 81.5h0M205.3 77.2h0M212.2 76.7h0M209.8 82.4h0M212.3 77.5h0M204.8 80.6h0M205.7 80.2h0M208.6 81.7h0M209.1 75.5h0M210.8 76h0M203.6 82.2h0M208.5 77.8h0M207.1 79.7h0M205.6 77.7h0M205.3 76.5h0M207.2 82.4h0M207.3 79h0M211.5 78.1h0M210.5 78.8h0M212.6 82.4h0M205.3 79.8h0M210.5 80.7h0M207.8 81.4h0M210.9 81.2h0M212.2 79.6h0M208 82.4h0M203.3 78.9h0M202.1 77.6h0M204.1 82.4h0M204.4 82.4h0M212.4 81.8h0M201.7 81.5h0M206.4 82.2h0M203.5 82.3h0M202.6 78.9h0M203.7 80.2h0M211.9 76.2h0M210.9 81h0M210 82h0M211.1 81.5h0M204.6 81h0M208.3 74.1h0M211 76.7h0M204.9 81.8h0M206.1 79.2h0M202 80.9h0M207.7 81.5h0M212.4 80.1h0M207 81.5h0M212.6 82.4h0M207.4 82.1h0M208.3 79.1h0M211.8 82.2h0M202.8 80.3h0M205.5 81.1h0M208.1 82.4h0M204.9 81.6h0M212.8 80.3h0M201.9 76.3h0M206.1 73.5h0M203 74.1h0M236.4 78.3h0M234.9 81h0M236.5 80.8h0M236.2 79.7h0M237.2 80.2h0M237.6 81.2h0M236.2 80.8h0M237.5 81.7h0M235 80.5h0M238 78.3h0M237.7 80.2h0M236 76.6h0M235.4 80.1h0M234.2 79.8h0M235.6 77.1h0M234 79.9h0M234.1 80.7h0M236 76.5h0M234.4 80.1h0M230.8 79.3h0M232.2 81.8h0M232 78.8h0M231.1 77h0M232.6 78.2h0M232.3 81.8h0M232 76.2h0M239.7 80h0M232.5 81.7h0M232.9 74.4h0M234.1 82.4h0M239.3 81.1h0M231.5 80.2h0M242.7 81.7h0M235.6 75.5h0M240.1 76.9h0M241.9 82.2h0M236.7 81.8h0M235.8 77.7h0M242.5 81.2h0M232.6 80.9h0M232.8 82.4h0M235.8 75.3h0M242.7 77.1h0M233.6 76.7h0M237 80.2h0M234.1 82.2h0M237 76.2h0M238 82h0M233.6 78.9h0M241.4 75.2h0M233.4 82.4h0M236.9 82.1h0M233.6 81.2h0M241.1 80.7h0M233.1 82.4h0M233.4 79.6h0M233.7 82.4h0M236.9 80.4h0M242.7 76.9h0M240.4 77.6h0M236 82.1h0M242.7 75.6h0M240.3 82.3h0M233.7 80.9h0M237.6 82h0M239.1 82.3h0M234.2 78.8h0M231.2 81.4h0M237.7 74.6h0M232.8 75.6h0M237.9 79.3h0M239.3 74.4h0M237.2 79.4h0M237.2 77.6h0M236.7 82.4h0M231.4 78.6h0M242.3 77.3h0M242.2 77.2h0M234.4 80.8h0M233.2 80h0M240.3 80.6h0M230.7 81.2h0M231.6 78h0M237.5 82h0M236.4 80.7h0M234.6 80.5h0M236 82h0M232.3 79.5h0M240 78.8h0M232.3 71.4h0M231.9 74.2h0M232 76.5h0M266 80.1h0M265 82h0M265.3 79.2h0M263.9 81.3h0M265.4 81.6h0M265.2 79.2h0M266.8 81.4h0M259 75.2h0M259 82.1h0M259.2 79.5h0M260.2 78.3h0M260.9 80h0M259 81.8h0M260.7 78.6h0M259.4 79.9h0M260.2 78.9h0M259.6 80.5h0M260.1 82.3h0M260 78.8h0M264 80.3h0M265.8 81.3h0M264.7 79.4h0M268.2 77.5h0M268.4 77.7h0M268 82.1h0M265.7 82h0M268.5 80h0M267.5 80.5h0M265.9 79.8h0M268.9 82h0M264.8 78.8h0M265.4 78.6h0M266.9 82.3h0M261.7 75h0M260.8 78.1h0M260.2 82.4h0M266.4 81.2h0M265.9 81.7h0M266.2 76.1h0M268.9 78.1h0M259.6 81.3h0M264.4 78h0M259.5 79.9h0M266.3 76.5h0M261.1 81.7h0M263.6 82.4h0M269.4 77.8h0M263 78.4h0M263.3 75.1h0M260.6 81h0M267.7 78.4h0M260.7 74.3h0M268.7 76.8h0M260.5 74.7h0M267.7 79.8h0M260.4 77.2h0M266.1 78.5h0M260.8 81.8h0M260.9 82.4h0M265.8 81.6h0M269.5 76.6h0M264.8 82.4h0M263.9 80.7h0M259.8 75.5h0M267.7 80.9h0M267.2 79.7h0M265.4 82.2h0M267.9 81.5h0M259.7 79.2h0M262.4 80.7h0M264.1 82.2h0M259.4 79.7h0M261.2 75.8h0M265.7 78.5h0M264.9 75.5h0M259.6 80h0M262.4 82.4h0M268.3 79.9h0M266.9 78.1h0M260 80.5h0M262.8 82.4h0M265.6 78.8h0M265.1 81.8h0M262.4 80.4h0M263.4 78.8h0M262.6 76.5h0M265.5 78.6h0M262.8 81.3h0M268.5 74.9h0M267.2 77.3h0M269.6 82.3h0M262.3 81.4h0M262.7 82h0M260 76.9h0M264.7 79.5h0M267.8 82.4h0M263.6 80.9h0M263.1 81.8h0M269.2 82.4h0M263.7 77h0M266.8 82.4h0M261.4 75.7h0M265.4 75.6h0M266 69.2h0M286.9 81.3h0M287 77.8h0M286.9 76.9h0M287.7 80.9h0M288.3 81h0M286.5 78h0M286.6 80.6h0M288.1 81.5h0M286.8 75.6h0M290 79.9h0M293.1 80h0M291 79.1h0M291.2 79.8h0M291.3 82h0M291.9 80.5h0M294.3 81.2h0M289.3 79.7h0M292.8 78.1h0M290.8 78.1h0M291.3 78.3h0M291.1 81.6h0M290.9 78.1h0M289.7 77.3h0M291.5 81.8h0M289.9 79.4h0M289.8 81h0M286.3 77.3h0M285.1 80.4h0M285.9 79.6h0M285.1 76.3h0M287.3 81.2h0M289.8 78.5h0M285.5 73.4h0M285.6 81.9h0M285.7 82.3h0M291.7 74.6h0M293.4 79.1h0M292.4 80.1h0M289.9 76h0M291.1 78.6h0M293.8 82.2h0M289.5 76.9h0M291.7 79.9h0M290.7 82.3h0M290.7 81.6h0M291.7 78.4h0M288.3 79.2h0M290 80.2h0M287.3 75.7h0M285.9 77.5h0M295.6 76.5h0M289.1 81.9h0M293.6 79.6h0M295.7 77.1h0M285.1 80h0M289.7 82.2h0M295.8 78.8h0M288.8 80.5h0M291.5 75.5h0M287.7 81.6h0M290.4 81h0M287.4 82.1h0M288.9 76h0M290.1 79.3h0M292 75.3h0M287 79.5h0M292.5 78.5h0M289 81.1h0M295.8 80.6h0M295.8 79.6h0M291.8 81.4h0M295.9 81.3h0M289.7 82.3h0M295 81.1h0M287.6 82.3h0M287.2 81.6h0M286.4 80.4h0M294.5 75.7h0M295.6 77.5h0M295.1 82.4h0M290.1 74.8h0M288.6 78.8h0M289.3 80.8h0M294 79.5h0M293 82.1h0M286.3 82.4h0M291.6 80.8h0M289 78.4h0M289.6 81.1h0M287.5 82.3h0M293.2 80.7h0M287.6 82.4h0M291.7 82.4h0M288.7 81.3h0M286.2 82.4h0M295.2 82h0M294.6 82.4h0M287.7 80.7h0M287.2 79.4h0M287.8 78.1h0M295.8 76.5h0M286.3 82.4h0M285.4 75.9h0M288.7 74.8h0M294.3 74.2h0M287.7 72.7h0M287.4 72.2h0M289.8 74.4h0M285.5 71.3h0M314.5 82.4h0M315 80.2h0M314.6 79.9h0M316 81.8h0M313.6 78.7h0M315.2 80.3h0M316.7 76.6h0M314.1 80.9h0M315.3 76.6h0M313.2 77.7h0M311.5 78.3h0M311.9 78.3h0M311.7 78.9h0M314.2 79.4h0M311.9 80.8h0M313.4 79h0M314.5 80.8h0M312.4 77.7h0M311.5 79.2h0M314.5 80h0M315.3 78.8h0M314.4 80.9h0M315.9 82.4h0M316.4 78.6h0M314.8 82.1h0M314.5 81.9h0M316.5 82.2h0M318.5 77.6h0M314.8 80.1h0M315.7 80.4h0M310.3 75h0M311.7 78.6h0M311.8 76.7h0M311.1 81.1h0M312.5 80.5h0M311.9 79.4h0M310.8 80.2h0M311.5 76.9h0M310.7 80.6h0M312.3 76.7h0M315.2 77.4h0M315.6 82.4h0M318 81h0M316 77h0M314.4 82.1h0M317.5 78.6h0M316.6 79.5h0M318.7 74.6h0M316.9 81.7h0M314.6 80.5h0M316.7 81.4h0M316.7 81h0M316.2 82.2h0M318 78.6h0M311.4 82.4h0M315.5 80.9h0M317.9 82.4h0M317.2 77.5h0M312.6 82.4h0M318 81.8h0M318.1 80.6h0M318.5 76.7h0M316.3 81.4h0M318.4 80.8h0M311.1 76.4h0M311.6 82.1h0M314.1 80.7h0M317.8 81.8h0M318.1 82.4h0M312 78.2h0M316 75.4h0M311.4 82.3h0M314.9 74.7h0M316.3 77.2h0M318.5 81.9h0M310.9 78.8h0M310.6 82.2h0M312.7 82.4h0M316.1 82.2h0M316.7 74.3h0M316.5 80h0M315.6 81.4h0M311.2 78.8h0M316.3 82h0M316.9 76.4h0M313.5 77.3h0M313.5 80.8h0M317.4 75.2h0M318.7 76.7h0M316.6 81.5h0M312.1 81.1h0M311.5 80.9h0M310.8 82h0M311.2 77.1h0M315.2 78h0M315.1 76.6h0M314 80.8h0M310.2 81.2h0M315.7 71.7h0M315.2 73.9h0M317.8 69.9h0M313.2 76.8h0M339.8 80.4h0M336.2 80.2h0M338.2 78.3h0M337.8 81h0M338.3 79h0M337.7 78.1h0M336.4 80h0M339.4 77.4h0M336 81.8h0M335.7 78.5h0M338 79.4h0M337.4 81.1h0M339.6 81.4h0M341 77.7h0M339.8 76.5h0M339.8 75.2h0M341 76.2h0M340.6 77.6h0M340 76.6h0M341.4 80.2h0M339.5 81.4h0M340.5 78h0M340.9 79.9h0M340.3 77.1h0M340 81.8h0M339.5 79.1h0M340 81.6h0M339.5 79.4h0M338.1 78h0M341.1 79.8h0M341.4 79.8h0M340.4 78.1h0M336.8 79.7h0M339.9 81h0M339.5 80.8h0M335.7 81.5h0M336.4 81.5h0M336.9 79.9h0M338.5 81h0M338.9 75.1h0M338.2 77.7h0M337.9 77.8h0M335.7 74.8h0M336.4 76.5h0M335.5 80.4h0M336.9 73.7h0M339.7 81.8h0M337 78.8h0M334.6 77.4h0M336.7 78.4h0M336.6 81.3h0M334.9 73.3h0M332.8 79h0M337.3 81.8h0M340.5 79.8h0M336.6 76h0M336.2 77.3h0M337.1 81.5h0M339.6 81.9h0M333 81h0M336.9 78.7h0M338.1 81.6h0M334.7 75.9h0M339.9 80.4h0M335 77.8h0M334.6 81.8h0M333 81.9h0M335.8 80.9h0M334.7 76h0M338.6 77.3h0M334.1 74.9h0M332.9 81.9h0M332.9 79.5h0M336.1 81.7h0M340.4 81.8h0M333.3 74.7h0M334.4 81.1h0M335.6 79h0M332.9 79.4h0M336.3 81.8h0M338 81.1h0M335.4 81.2h0M339.3 81.8h0M333.9 81.2h0M339.4 81.8h0M341.1 79.3h0M339.3 79.8h0M336.3 81.8h0M335.2 81.7h0M338.2 79.9h0M333.1 81.9h0M333.6 75.4h0M338.5 73.9h0M338.7 81.3h0M338.5 73.6h0M338.7 81.2h0M339.2 80.1h0M333.6 75.1h0M336.2 69.9h0M334.4 74.9h0M335.6 76.1h0" stroke="#a9d4e5" stroke-width="1.5" stroke-linecap="round" fill="none"/>
<path d="M47 63.7h0M60.6 58.9h0M48.6 73h0M57.5 71h0M95.1 36.7h0M95.1 44.9h0M95.1 50.8h0M95.1 57h0M95.1 64.8h0M89.1 64.5h0M99.6 63h0M101.2 64.1h0M90.2 66.9h0M100.5 67.4h0M101 69.7h0M89.9 70.4h0M131.8 63.7h0M131.1 66.9h0M135.3 69.9h0M126.9 71h0M159.6 64.8h0M165 71h0M187.9 63.4h0M194.2 69.2h0M221.2 60.9h0M219.9 64.3h0M224.4 67.7h0M218.3 71.6h0M246.6 37h0M246.6 38.8h0M246.6 46.7h0M246.6 58h0M246.6 73.8h0M246.6 73h0M246.6 72.2h0M246.6 71.4h0M246.6 70.6h0M246.6 69.9h0M246.6 69.1h0M246.6 68.3h0M246.6 67.5h0M246.6 66.8h0M246.6 66h0M246.6 65.2h0M246.6 64.4h0M246.6 63.7h0M251.6 60.7h0M256.1 64.3h0M255.6 73.4h0M274.9 68.9h0M274.9 70h0M307 66.5h0M300.9 71.6h0M328 72.6h0" stroke="#5894cb" stroke-width="1.9" stroke-linecap="square" fill="none"/>
<path d="M72 58.9h0M72 61.9h0M83.9 64.8h0M70.4 68.3h0M78.5 69.9h0M108.2 61.9h0M144.6 22.7h0M144 64.8h0M144 68.3h0M174.3 66.9h0M177.8 68.3h0M180.9 68.3h0M203.6 67h0M209.9 70h0M236.4 64.3h0M241.6 68.2h0M265.8 63.2h0M260.2 69.2h0M262.9 71.6h0M288.9 67.7h0M286.9 69.3h0M312.2 68.2h0M316.3 70h0M338.9 67h0" stroke="#9cc9df" stroke-width="1.9" stroke-linecap="square" fill="none"/>
<line x1="378.9" y1="20.2" x2="378.9" y2="119.8" stroke="#666" stroke-width="1"/>
<line x1="374.3" y1="119.6" x2="378.9" y2="119.6" stroke="#555" stroke-width="0.9"/>
<text transform="translate(372.6,120.6) rotate(-90) scale(1.15,0.6)" font-size="7.4" font-weight="bold" text-anchor="middle" fill="#222">0</text>
<line x1="374.3" y1="97.4" x2="378.9" y2="97.4" stroke="#555" stroke-width="0.9"/>
<text transform="translate(372.6,98.4) rotate(-90) scale(1.15,0.6)" font-size="7.4" font-weight="bold" text-anchor="middle" fill="#222">2</text>
<line x1="374.3" y1="75.2" x2="378.9" y2="75.2" stroke="#555" stroke-width="0.9"/>
<text transform="translate(372.6,76.2) rotate(-90) scale(1.15,0.6)" font-size="7.4" font-weight="bold" text-anchor="middle" fill="#222">4</text>
<line x1="374.3" y1="53" x2="378.9" y2="53" stroke="#555" stroke-width="0.9"/>
<text transform="translate(372.6,54) rotate(-90) scale(1.15,0.6)" font-size="7.4" font-weight="bold" text-anchor="middle" fill="#222">6</text>
<line x1="374.3" y1="30.8" x2="378.9" y2="30.8" stroke="#555" stroke-width="0.9"/>
<text transform="translate(372.6,31.8) rotate(-90) scale(1.15,0.6)" font-size="7.4" font-weight="bold" text-anchor="middle" fill="#222">8</text>
<line x1="379.4" y1="42" x2="679" y2="42" stroke="#c4c4c4" stroke-width="1" stroke-dasharray="1.6,1.1"/>
<line x1="378.3" y1="123.4" x2="679" y2="123.4" stroke="#777" stroke-width="1"/>
<line x1="378.8" y1="123.4" x2="378.8" y2="126.6" stroke="#555" stroke-width="0.9"/>
<rect x="380.4" y="83.5" width="20.5" height="36.4" fill="#63a0d3" rx="0.6"/>
<text x="391.8" y="133.6" font-size="7.3" text-anchor="end" font-weight="bold" font-style="normal" fill="#222" >Chr 1</text>
<line x1="390.6" y1="123.4" x2="390.6" y2="126.6" stroke="#555" stroke-width="0.9"/>
<rect x="402.2" y="82.4" width="19.9" height="37.5" fill="#a9d4e5" rx="0.6"/>
<text x="412.1" y="133.6" font-size="7.3" text-anchor="middle" font-weight="bold" font-style="normal" fill="#222" >2</text>
<line x1="412.1" y1="123.4" x2="412.1" y2="126.6" stroke="#555" stroke-width="0.9"/>
<rect x="423.1" y="83" width="19.4" height="36.9" fill="#63a0d3" rx="0.6"/>
<text x="432.8" y="133.6" font-size="7.3" text-anchor="middle" font-weight="bold" font-style="normal" fill="#222" >3</text>
<line x1="432.8" y1="123.4" x2="432.8" y2="126.6" stroke="#555" stroke-width="0.9"/>
<rect x="443.8" y="83" width="15.8" height="36.9" fill="#a9d4e5" rx="0.6"/>
<text x="451.7" y="133.6" font-size="7.3" text-anchor="middle" font-weight="bold" font-style="normal" fill="#222" >4</text>
<line x1="451.7" y1="123.4" x2="451.7" y2="126.6" stroke="#555" stroke-width="0.9"/>
<rect x="460.9" y="82.4" width="14.8" height="37.5" fill="#63a0d3" rx="0.6"/>
<text x="468.3" y="133.6" font-size="7.3" text-anchor="middle" font-weight="bold" font-style="normal" fill="#222" >5</text>
<line x1="468.3" y1="123.4" x2="468.3" y2="126.6" stroke="#555" stroke-width="0.9"/>
<rect x="476.8" y="82.4" width="15.3" height="37.5" fill="#a9d4e5" rx="0.6"/>
<text x="484.5" y="133.6" font-size="7.3" text-anchor="middle" font-weight="bold" font-style="normal" fill="#222" >6</text>
<line x1="484.5" y1="123.4" x2="484.5" y2="126.6" stroke="#555" stroke-width="0.9"/>
<rect x="493.1" y="83" width="13.8" height="36.9" fill="#63a0d3" rx="0.6"/>
<text x="500" y="133.6" font-size="7.3" text-anchor="middle" font-weight="bold" font-style="normal" fill="#222" >7</text>
<line x1="500" y1="123.4" x2="500" y2="126.6" stroke="#555" stroke-width="0.9"/>
<rect x="508" y="82.4" width="13.6" height="37.5" fill="#a9d4e5" rx="0.6"/>
<text x="514.8" y="133.6" font-size="7.3" text-anchor="middle" font-weight="bold" font-style="normal" fill="#222" >8</text>
<line x1="514.8" y1="123.4" x2="514.8" y2="126.6" stroke="#555" stroke-width="0.9"/>
<rect x="523.1" y="83" width="13.8" height="36.9" fill="#63a0d3" rx="0.6"/>
<text x="530" y="133.6" font-size="7.3" text-anchor="middle" font-weight="bold" font-style="normal" fill="#222" >9</text>
<line x1="530" y1="123.4" x2="530" y2="126.6" stroke="#555" stroke-width="0.9"/>
<rect x="537.9" y="83" width="13" height="36.9" fill="#a9d4e5" rx="0.6"/>
<text x="544.4" y="133.6" font-size="7.3" text-anchor="middle" font-weight="bold" font-style="normal" fill="#222" >10</text>
<line x1="544.4" y1="123.4" x2="544.4" y2="126.6" stroke="#555" stroke-width="0.9"/>
<rect x="552.5" y="83" width="13.3" height="36.9" fill="#63a0d3" rx="0.6"/>
<text x="559.1" y="133.6" font-size="7.3" text-anchor="middle" font-weight="bold" font-style="normal" fill="#222" >11</text>
<line x1="559.1" y1="123.4" x2="559.1" y2="126.6" stroke="#555" stroke-width="0.9"/>
<rect x="567" y="82.4" width="13.6" height="37.5" fill="#a9d4e5" rx="0.6"/>
<text x="573.8" y="133.6" font-size="7.3" text-anchor="middle" font-weight="bold" font-style="normal" fill="#222" >12</text>
<line x1="573.8" y1="123.4" x2="573.8" y2="126.6" stroke="#555" stroke-width="0.9"/>
<rect x="581.9" y="83" width="12" height="36.9" fill="#63a0d3" rx="0.6"/>
<text x="587.9" y="133.6" font-size="7.3" text-anchor="middle" font-weight="bold" font-style="normal" fill="#222" >13</text>
<line x1="587.9" y1="123.4" x2="587.9" y2="126.6" stroke="#555" stroke-width="0.9"/>
<rect x="595.4" y="83" width="11.8" height="36.9" fill="#a9d4e5" rx="0.6"/>
<text x="601.3" y="133.6" font-size="7.3" text-anchor="middle" font-weight="bold" font-style="normal" fill="#222" >14</text>
<line x1="601.3" y1="123.4" x2="601.3" y2="126.6" stroke="#555" stroke-width="0.9"/>
<rect x="608.4" y="82.4" width="11.8" height="37.5" fill="#63a0d3" rx="0.6"/>
<text x="614.3" y="133.6" font-size="7.3" text-anchor="middle" font-weight="bold" font-style="normal" fill="#222" >15</text>
<line x1="614.3" y1="123.4" x2="614.3" y2="126.6" stroke="#555" stroke-width="0.9"/>
<rect x="621.5" y="82.4" width="12" height="37.5" fill="#a9d4e5" rx="0.6"/>
<text x="627.5" y="133.6" font-size="7.3" text-anchor="middle" font-weight="bold" font-style="normal" fill="#222" >16</text>
<line x1="627.5" y1="123.4" x2="627.5" y2="126.6" stroke="#555" stroke-width="0.9"/>
<rect x="634.7" y="83" width="10.3" height="36.9" fill="#63a0d3" rx="0.6"/>
<text x="639.9" y="133.6" font-size="7.3" text-anchor="middle" font-weight="bold" font-style="normal" fill="#222" >17</text>
<line x1="639.9" y1="123.4" x2="639.9" y2="126.6" stroke="#555" stroke-width="0.9"/>
<rect x="646.5" y="81.9" width="10" height="38" fill="#a9d4e5" rx="0.6"/>
<text x="651.5" y="133.6" font-size="7.3" text-anchor="middle" font-weight="bold" font-style="normal" fill="#222" >18</text>
<line x1="651.5" y1="123.4" x2="651.5" y2="126.6" stroke="#555" stroke-width="0.9"/>
<rect x="658" y="83" width="10" height="36.9" fill="#63a0d3" rx="0.6"/>
<text x="663" y="133.6" font-size="7.3" text-anchor="middle" font-weight="bold" font-style="normal" fill="#222" >19</text>
<line x1="663" y1="123.4" x2="663" y2="126.6" stroke="#555" stroke-width="0.9"/>
<rect x="669.2" y="81.9" width="9.8" height="38" fill="#a9d4e5" rx="0.6"/>
<text x="674.1" y="133.6" font-size="7.3" text-anchor="middle" font-weight="bold" font-style="normal" fill="#222" >20</text>
<line x1="674.1" y1="123.4" x2="674.1" y2="126.6" stroke="#555" stroke-width="0.9"/>
<path d="M386.1 79.2h0M386.4 81.5h0M386.6 76.6h0M385.3 81.7h0M383.6 78.9h0M384.2 76.9h0M385.8 77.3h0M385.5 79.7h0M385.6 77.5h0M386.6 79.7h0M399.7 81.3h0M399.2 82.4h0M396.7 76.6h0M400.3 75.8h0M397.8 81.8h0M398.7 78.3h0M397.8 76.3h0M399.2 80.6h0M398.7 76.5h0M399.7 80.8h0M399.4 79.4h0M388.4 81.4h0M387.5 81h0M388.4 81.7h0M392.2 82.4h0M390.9 82.1h0M386.5 79.7h0M390.3 81.7h0M388.3 80h0M389.1 83h0M387.7 82.5h0M388.4 82.4h0M381.7 81.4h0M396.4 80.3h0M384.9 79.8h0M382 82.3h0M397 76.6h0M389.9 77.8h0M390.6 81.5h0M392.3 75.4h0M395.4 81.9h0M395 80.4h0M387.8 78.6h0M396.8 80.7h0M399.2 83.5h0M390.7 80.5h0M387.6 83.4h0M394.4 82.2h0M386.2 83.5h0M399.7 82.7h0M383.3 83.2h0M385.9 77.5h0M384.5 83h0M382.9 81.9h0M385 82.7h0M395.2 76.5h0M397.1 83.5h0M388.3 77.7h0M381.6 83.3h0M390.5 82.5h0M395.5 79.5h0M390 83.1h0M385.5 83.1h0M382.3 80.1h0M384 77.1h0M393.5 83.5h0M390.6 80.8h0M381.8 81.8h0M381.6 78.9h0M381.1 80.5h0M400 77.8h0M385.5 81.4h0M383.7 82.7h0M397.7 78.2h0M381.2 82.5h0M393.4 83.3h0M396.5 77h0M391.6 82.6h0M397.4 81.6h0M384.6 83h0M384.1 77.9h0M390.8 79.8h0M396.8 75.7h0M384.7 82.4h0M397.9 79h0M388.5 80.2h0M384.8 83.4h0M382 82.5h0M385.6 81.6h0M399.7 83.4h0M391.8 77.5h0M392.5 81.5h0M395.8 83.5h0M399.3 79.9h0M396.6 78.1h0M382.9 83.5h0M384.4 81.7h0M399.1 76.8h0M389 80.6h0M395.3 82.8h0M399.7 76.2h0M395 76.9h0M396.5 80.3h0M387.2 83h0M385.6 83.5h0M398.9 82.9h0M381.5 82.9h0M383 82.1h0M387.4 83.3h0M390.2 82.3h0M387.8 78.2h0M386.9 81.4h0M397.9 75.9h0M388.2 83.5h0M399.3 81.6h0M385.2 83.4h0M385.6 82.9h0M383.7 83.5h0M400.2 78.1h0M383.2 81.9h0M396.5 81.7h0M382.3 82.8h0M388.3 76.7h0M392.2 82h0M393.2 83.5h0M394.2 78.3h0M393.9 82.6h0M386.5 83.5h0M382.6 83.4h0M389.7 78.7h0M391.8 72.8h0M386.3 77.5h0M395.6 77.4h0M396.1 75.4h0M436.3 79.6h0M435.9 78.8h0M434.4 82.9h0M435.4 80.5h0M435.1 80.4h0M434.6 80h0M434.3 82.7h0M434.8 82.9h0M434.3 81h0M437.6 77.5h0M435.9 80.9h0M432.5 77.1h0M434.1 82.8h0M433 81h0M436.2 79h0M434.6 75.6h0M433.8 76.4h0M433.4 76.8h0M433.2 79.1h0M433.1 78h0M425.7 78.1h0M423.9 82.2h0M426.1 78.1h0M426.5 82.6h0M425 81.2h0M427.2 82.4h0M425.6 80.9h0M426.4 79.6h0M426.1 80.1h0M427.7 80.6h0M427.2 78.2h0M424.6 78.7h0M426.2 80.1h0M427.3 78h0M424.8 81.7h0M425.2 79.5h0M426.1 79.1h0M426.7 81.7h0M434.8 76.1h0M433 76h0M433.9 81h0M432.1 79.1h0M435.1 79.4h0M431.6 75.4h0M433.2 78h0M432.8 76.5h0M430.6 79.8h0M432.9 80.9h0M425.3 82.5h0M439.5 82.1h0M432.4 80.4h0M428.8 81.8h0M432.9 76.9h0M439 82.8h0M432.9 78.5h0M440 80.9h0M435.2 79.8h0M435.8 76.5h0M441.6 74.8h0M426 79h0M430.8 82.5h0M425.5 76.2h0M440 80.9h0M432.8 82.7h0M440.6 78.5h0M426.7 80.5h0M441.8 82.5h0M430.5 82.1h0M430.5 82.9h0M435.1 82.6h0M436.1 81.4h0M439 78.6h0M439.3 82.8h0M438.2 78.2h0M429 83h0M425.5 78.3h0M441.3 82.9h0M428.1 81.8h0M424.9 79.8h0M439.3 77.3h0M427 76.2h0M438 82.8h0M439.2 75.9h0M439.7 78.5h0M438.6 80.9h0M423.9 79.4h0M432.8 82.8h0M426.1 76.6h0M440.2 83h0M424 79.2h0M429 76.8h0M432.1 79h0M424.5 78.2h0M427.3 81.7h0M432.5 82.3h0M428.1 81.5h0M424.6 82.8h0M426.1 77.1h0M429.4 74.9h0M440.1 82.8h0M439.3 74.9h0M431.8 81.3h0M436 81.2h0M428.5 78.8h0M427.7 82h0M424.1 82.3h0M438.4 82.9h0M427.2 81.9h0M429.1 83h0M424.7 82.7h0M438.1 78.2h0M438.4 79.2h0M441.9 82.5h0M436.6 81.5h0M441.2 81.6h0M436.9 78.2h0M441.2 78.4h0M429.7 79.8h0M438.2 75.7h0M428.2 78.8h0M436.8 82.8h0M425.9 80.6h0M434.6 82.3h0M435 82.8h0M434.1 80.9h0M438.8 78.9h0M425.1 80.7h0M426 80.9h0M436 79.1h0M423.9 80.9h0M426.9 81.1h0M432.7 81.3h0M437.6 82.4h0M432.4 82.6h0M438.6 75.2h0M432.6 72h0M436.3 72.5h0M426.6 77.1h0M466.7 81.8h0M465.6 79.7h0M467.8 78.7h0M465.5 80.2h0M465 79.6h0M466.8 82.3h0M466.4 80.6h0M466.8 79.4h0M462 77h0M463.8 77.6h0M463.4 78.4h0M463.2 75.4h0M463 77.2h0M465 80.5h0M463.5 81.1h0M461.5 82.3h0M461.5 76.7h0M463.9 76h0M461.9 79.8h0M461.5 80.9h0M463.1 77.3h0M464 77.2h0M463.7 79.9h0M461.5 81.7h0M461.5 82.4h0M475.1 82.3h0M466 76.4h0M469.1 75.8h0M467.8 79.2h0M465.6 74.9h0M463.8 76h0M474.5 81.1h0M470.6 80.9h0M471.6 82.4h0M475 80.8h0M472.4 80.3h0M465.1 82.3h0M468.9 81.1h0M470.2 81.7h0M468.6 82.4h0M470.7 80.6h0M465.1 82.3h0M468 82.4h0M473.4 80.8h0M470.9 81.7h0M462.9 81.2h0M464.4 76.5h0M461.9 82.4h0M473.8 82.4h0M470.7 79.5h0M466.5 75.3h0M465.2 81.9h0M472.9 81.9h0M462.4 80.1h0M471.9 81.6h0M466.9 81.7h0M470.2 80.7h0M470.5 81.4h0M471.5 80.1h0M463.9 81.2h0M470.1 77.9h0M467.1 81.7h0M473.5 79.6h0M474.4 76.1h0M467.5 81.4h0M470.9 78.1h0M465.6 81.9h0M465.6 82h0M467.1 80.7h0M472 82.4h0M467.1 81.9h0M465.5 81.9h0M472 82.4h0M471.6 76.7h0M468 76.5h0M474.2 82h0M465.6 78h0M465.4 80.8h0M467 78.8h0M471.3 76h0M473.6 77.2h0M471.5 77.9h0M462 76.9h0M462 74.5h0M462.3 82.2h0M465.1 82.4h0M464 82.1h0M471.5 76.9h0M470.8 81.3h0M466.3 80.4h0M462.1 79.3h0M463 80.9h0M466 74.4h0M463.4 79.8h0M461.8 79.9h0M463.7 81.5h0M473.1 81.7h0M472 77.6h0M464.5 78.6h0M463.2 75h0M474 75.1h0M474.5 73.5h0M469.3 74.2h0M467.7 73.6h0M474.1 75.1h0M493.7 78.6h0M494.7 77h0M495.5 76h0M495.6 82.4h0M494.7 75.8h0M495.6 76.9h0M494 81.5h0M494.8 81.2h0M493.8 79.5h0M501.6 80h0M502.1 79h0M501.4 78.5h0M503 81.1h0M501.2 81h0M502.3 82.2h0M503.5 81.5h0M499.1 81.6h0M500.2 76.4h0M500.3 76h0M501.3 75.2h0M498.9 78.9h0M501.2 82.2h0M499.9 81.5h0M499 76.6h0M501.9 80.9h0M501 80.1h0M498.1 77.4h0M500.3 81.7h0M501.8 80.8h0M495.3 78.4h0M496.6 78.7h0M493.7 80.7h0M494.8 81.8h0M494.9 80.5h0M496.6 82.7h0M493.7 78.2h0M494.1 82.2h0M494.5 81.9h0M495.8 82.8h0M496.3 80.6h0M495.1 80.2h0M496.1 82.9h0M497.6 83h0M499.2 82h0M497 81.3h0M500 83h0M499.2 80.1h0M498.1 82.3h0M498.7 80.8h0M503.3 80.4h0M503.4 82.9h0M496.3 75.7h0M502.8 81.7h0M506.3 83h0M501.3 82.9h0M497.6 82.7h0M498.6 83h0M496 79.4h0M495.8 81.2h0M506 78.2h0M494.9 78.7h0M501 80.8h0M503.8 75.4h0M498.3 77.5h0M496.3 80.7h0M504.8 78.1h0M498.1 76.6h0M501 76.5h0M503.8 81.5h0M498.1 82.9h0M504.9 82.9h0M494.7 82.4h0M495.4 82.6h0M502.5 82.3h0M504.5 81.9h0M504.6 77.5h0M497 80.6h0M502.2 82.8h0M494.2 76.8h0M493.9 82.8h0M495.4 77.3h0M501.9 81.1h0M500 75.3h0M496.3 77.5h0M497.4 82.5h0M502.4 81.8h0M501 79.3h0M494.4 81.9h0M498.8 77.5h0M503.5 81.6h0M498.7 78.2h0M503 83h0M503.9 77h0M497.3 79.5h0M499.7 82.5h0M494.5 80.8h0M502.9 81.8h0M501.8 82.8h0M504.2 78.7h0M499.9 82.9h0M493.7 81.8h0M496.8 83h0M497.7 75.9h0M500.2 79.4h0M499.1 82.4h0M495.8 80.6h0M502.4 81h0M499.5 80.4h0M496.3 75.8h0M504.6 82.8h0M504.5 79.1h0M494.1 78.2h0M504 82.4h0M496.2 81.3h0M494.2 82.8h0M502.6 82h0M498.7 76.2h0M497.5 77.2h0M494.4 73.8h0M500.6 72.7h0M501.4 72.1h0M500.1 75.1h0M498.3 75.1h0M535.1 82.5h0M536.2 81.2h0M534 79.2h0M533.8 77.1h0M534.8 82.9h0M535.4 79.4h0M535.9 76.6h0M536.3 82.8h0M536.3 76.9h0M535.5 81.4h0M533.8 76.4h0M533 76.9h0M533.7 81.3h0M532.5 77.6h0M532.1 82.7h0M531.7 78.3h0M531.4 81h0M531.8 78h0M533.4 79.5h0M531.8 81.3h0M533.5 82.6h0M534.8 77.8h0M531.9 80.5h0M533 82.1h0M532.7 80.7h0M526.8 80.2h0M528.1 79.6h0M527.3 75.5h0M528 76.8h0M528.7 79.6h0M527.7 76.1h0M525.5 76.5h0M529 80.9h0M527.5 74.5h0M526.5 81.5h0M527.8 82.5h0M534.4 80.8h0M533.7 78.4h0M531.7 81.9h0M534.7 82.3h0M535 82.9h0M531.4 75.2h0M530.4 82.1h0M529.7 81.7h0M525.8 81.7h0M526.2 81.3h0M530.5 80.6h0M532.5 83h0M524.7 82h0M524.7 78.4h0M532.7 82.7h0M530.6 82.5h0M528 79.8h0M529.9 82.9h0M524.4 80.4h0M534.4 80.1h0M530.4 80.9h0M530 78.5h0M530.6 81.8h0M527 82h0M529.7 80.9h0M524.4 81.9h0M535.4 81.7h0M533.3 79.9h0M535.9 80.7h0M525 80.6h0M535.7 75.2h0M531.9 82h0M531.9 82.9h0M533.7 78h0M527.7 78.2h0M535.1 76.6h0M534.3 79.2h0M530 80.8h0M529.4 82.4h0M529.6 82.9h0M529.5 79.3h0M527.3 76.7h0M535 75.8h0M531 76.9h0M525.1 82.8h0M525.1 82.1h0M523.9 82.1h0M534.9 81h0M524.9 80.8h0M531.4 79.3h0M525.6 82.5h0M528.6 81h0M534.1 81.3h0M532.3 80.8h0M528.6 82.9h0M535.5 76.6h0M532.8 80.4h0M533.9 82.7h0M524.4 81.1h0M528 82.8h0M527.3 75.2h0M533.3 83h0M527 78.1h0M532.1 82.6h0M534.8 77.4h0M535.4 76.2h0M526.5 75.3h0M529.7 76.9h0M554.7 81.4h0M554.6 81.8h0M557.3 80.2h0M556.1 82.7h0M555.1 81.1h0M557 82.9h0M558 80h0M553.7 79.7h0M559.1 79.5h0M554.7 81.4h0M557.3 82.8h0M557 81.1h0M564.2 77.3h0M563.3 75.1h0M562.9 82.5h0M565.2 74.7h0M564.2 76.9h0M564.2 75.5h0M562.5 79.4h0M562.7 74.5h0M562.9 79.3h0M563.2 77.9h0M560.3 76h0M563.1 82.5h0M564 81.4h0M562.5 73.7h0M561.3 82.7h0M562.7 78.1h0M561.5 76.5h0M561.6 82.7h0M559.2 82.8h0M562.3 82.3h0M560.6 82.8h0M561.4 75h0M557.2 83h0M553.3 82.1h0M561 74.7h0M564.1 77.5h0M560.6 78.7h0M560.8 82.9h0M562.8 82h0M555 75.2h0M562.9 82.9h0M559.5 83h0M563 82.2h0M558.5 79.3h0M561.9 83h0M560.4 82h0M557 76.9h0M561.4 78.8h0M556.2 82h0M559.4 81.1h0M558.9 77.1h0M555.5 82.9h0M559.3 80.5h0M563.3 82.4h0M565.1 82.8h0M558.5 82.3h0M555.1 82.6h0M557.7 82.7h0M555.6 78.7h0M556.7 76.2h0M557.3 83h0M555.2 77h0M560 75.9h0M558.3 82.2h0M558.1 81.5h0M562.1 75.4h0M561.7 77.8h0M557.1 81.4h0M553.2 76.5h0M564.1 79h0M557.2 82.2h0M560.2 82.2h0M558.9 82.7h0M562.9 76h0M561.6 76.4h0M564.4 81.2h0M553.5 79.3h0M558.4 82.1h0M556.3 80.5h0M563.5 82.3h0M560.1 81.5h0M563.2 81.1h0M564.8 82.9h0M564.7 82.3h0M562.5 81.6h0M556.5 76.6h0M560.5 82.8h0M560.6 81h0M565 81h0M560.4 79.5h0M553.2 81.5h0M564.5 80.9h0M556.2 82.6h0M557 81.4h0M556.6 81h0M555.1 82.9h0M553.9 81.8h0M555.2 82.5h0M555.5 82h0M561.4 83h0M556.7 77.1h0M553.6 75.5h0M554.4 82.2h0M564.4 78.3h0M556.2 81.6h0M557.2 80.5h0M557.5 76.8h0M564.5 77.4h0M560.9 77.2h0M590.4 81.8h0M590.9 81.8h0M592.3 76.7h0M592.1 80.9h0M591.4 78.4h0M589.2 80.3h0M589.4 82.8h0M586.3 79.3h0M583.9 78.2h0M585.4 81.1h0M584.6 78.2h0M584.8 82.5h0M583.4 82.8h0M587.3 79.7h0M585 82.1h0M585.3 81.1h0M582.6 78.7h0M586.4 82.7h0M584.7 77h0M585.5 77h0M591.6 82.3h0M590.2 79.8h0M590.9 80.8h0M592.3 77h0M592.7 74.8h0M591.1 75.6h0M591.2 76.1h0M589.9 81.1h0M589.3 81.7h0M592.6 78.1h0M592 80h0M591.7 81.2h0M589.8 81.3h0M589.5 81.6h0M587.1 76.7h0M588.4 75.1h0M587.7 75.7h0M588.9 74.9h0M588.5 79.9h0M589.4 78.9h0M588.6 77.3h0M587.1 78.9h0M588.3 76h0M584.1 83h0M586 78.2h0M589.1 82.7h0M589.6 76.2h0M592.3 82.3h0M592.5 82.8h0M582.8 75.2h0M588.8 78h0M586.2 82.9h0M583.6 82.6h0M591.5 82.1h0M582.9 82.6h0M592 82.6h0M591.9 80.4h0M592.7 82.7h0M587.4 76.4h0M593 82.8h0M583.8 76h0M591.3 82.6h0M590.4 81.8h0M588.5 80.5h0M592.7 80.8h0M584.6 82.7h0M586.1 82.9h0M582.7 82.8h0M584.7 79.9h0M583.9 80.8h0M592.3 82.9h0M583.3 79.5h0M592.9 82.6h0M588.4 80.1h0M583.1 82.9h0M591.3 81.7h0M591.6 81.2h0M584.3 82.5h0M582.9 82.9h0M586.7 75h0M589.3 81.3h0M593.2 81h0M585.6 80.2h0M592.6 82h0M587.1 78.1h0M588.4 78.6h0M588.2 82.9h0M590.3 80.4h0M590.1 82.5h0M585.2 82.7h0M588.2 82.9h0M586.5 77.4h0M592.8 83h0M590.4 81.5h0M591.2 80.6h0M588.8 75.7h0M585 83h0M586.4 77.9h0M583.8 80.2h0M587.9 77.2h0M585.2 82.5h0M585.4 81.9h0M590.6 78.4h0M593.2 79.2h0M587.5 75h0M587.7 71.3h0M587.6 72.4h0M589 70h0M610.2 81.7h0M615.5 80.7h0M611.4 80.4h0M613.4 80.9h0M614.1 82.1h0M611.8 77.8h0M613.1 77.7h0M614.5 79.2h0M612.4 77.8h0M614.1 77h0M611.6 78h0M611.2 79.7h0M609.1 78.7h0M609 80.7h0M609.4 81h0M610.4 81.4h0M609 81.9h0M609.4 79.1h0M618.9 82.4h0M616.7 80.4h0M617 79.6h0M616.6 80.4h0M617.6 81.3h0M619.3 82.2h0M616.5 78.4h0M617.5 82.1h0M615.9 78.2h0M614.7 79.2h0M615 81.6h0M617.1 79h0M614.4 79.1h0M615.5 82.1h0M617.1 78.2h0M616.9 79.1h0M614.9 80.8h0M614.5 78.2h0M617.4 77.3h0M614.7 78.9h0M616.3 79.6h0M617.1 75.4h0M618.2 79.6h0M615.5 79.6h0M616 81.3h0M615 79.7h0M617.2 78.6h0M616.3 80.9h0M616.2 81.8h0M617.6 80.1h0M616.9 81.1h0M618.2 75.5h0M615.7 78.5h0M616.1 80.2h0M611.5 75.2h0M610.5 79.4h0M619.4 82.3h0M616.3 82.3h0M611.8 76.5h0M612.5 80.2h0M617.9 82h0M612.3 82.1h0M611.9 82.1h0M618.7 82.1h0M609.9 82.3h0M613.8 77.2h0M618.6 81.8h0M611.4 82.4h0M611.4 81.8h0M615.3 76.2h0M613.8 82.2h0M613.6 82.2h0M615.3 80.6h0M610.8 82.4h0M611.8 82h0M613.7 82.4h0M617.8 78.6h0M612 81.5h0M618.4 82.4h0M613.6 76.6h0M619.1 82.2h0M616.6 81.6h0M617.5 79.9h0M612.1 79.5h0M614 80h0M616.5 82.4h0M618.6 81.9h0M610.6 76.3h0M613.8 80.6h0M618.9 82.4h0M613.8 80.1h0M611.3 76.1h0M611.3 76.2h0M612.8 82.4h0M612.3 82.4h0M618.9 79.9h0M615.3 79.1h0M614.4 80.8h0M619.4 75h0M610 75.7h0M612.7 82.3h0M614.2 82.4h0M618.3 80.3h0M613.8 78.8h0M612.2 74.9h0M617 75.9h0M616.4 78.2h0M615.1 82.4h0M619.2 75.9h0M617.9 80.8h0M617.1 82.2h0M618.8 76.4h0M616.7 73.8h0M616.7 75.2h0M611.7 75.7h0M615.2 72.2h0M618.5 73.9h0M642.8 80.3h0M644.4 78.8h0M642.4 82h0M642.5 82.1h0M640.7 80.3h0M644.4 83h0M642.7 79.2h0M643.8 82h0M644.4 79.2h0M637 77h0M637.7 81.5h0M637.3 80.4h0M635.8 82.8h0M635.3 78.9h0M635.3 81.1h0M638.3 76.3h0M636.9 80.1h0M637.3 82.5h0M637.2 78.2h0M638.2 79.6h0M635.3 79.1h0M635.3 80.7h0M635.9 76.5h0M636.5 74.7h0M635.6 76.7h0M635.3 74.5h0M635.3 79.6h0M635.6 81.5h0M635.3 82.5h0M636.7 81.9h0M635.3 74.7h0M642.7 82h0M636 82.9h0M643.8 81.9h0M637.4 74.9h0M641.5 75.5h0M640.5 81.3h0M637.5 82.5h0M644.3 77.7h0M643.8 82.5h0M639.5 80.5h0M635.4 76.3h0M639.7 78.3h0M642.9 78.9h0M641.2 81.4h0M638.6 75.9h0M636 77.5h0M635.5 78.5h0M636.1 76.4h0M640.3 75.3h0M643.8 83h0M637.2 82.3h0M638.1 83h0M640.3 82.7h0M636.1 75.4h0M639.7 82.8h0M639 83h0M636.8 83h0M643.6 83h0M643.2 75h0M642.2 75.8h0M640.9 75.6h0M644.4 75.8h0M638.9 81.6h0M640.6 82.8h0M637.2 82.7h0M644.1 78.5h0M637.4 82.8h0M637.8 82.2h0M641.8 82.7h0M643.2 81.8h0M637.4 81.5h0M636.2 83h0M643.9 82.9h0M637.5 77.7h0M643.4 82.4h0M636.1 82.9h0M639.7 82.7h0M642.2 77.4h0M636.9 79.4h0M642.2 72.4h0M643.3 71.3h0M642.4 77.4h0M642.3 76.5h0M637 72.4h0M643.3 75.9h0M661.3 76.2h0M662.5 77.8h0M661.4 79.1h0M661.7 76.9h0M661.9 80.6h0M661.1 76.3h0M662.2 82.8h0M660.1 82.4h0M660.2 79.7h0M658.6 75h0M659.2 74.5h0M660.6 82.9h0M658.6 75.6h0M661.6 79.2h0M660.4 76.7h0M659.4 82.5h0M661.1 83h0M666.9 81.9h0M665.4 80.9h0M666.3 76.2h0M666.1 75h0M667.4 76.5h0M665.8 76.8h0M667.4 78.1h0M666.5 78.3h0M666.3 82.9h0M665.3 79.7h0M664.5 78.4h0M663.2 78.3h0M661.2 78h0M663.9 82.9h0M665.7 82.9h0M659.2 75h0M658.9 75.3h0M666.7 82.9h0M662 80h0M665.6 82.7h0M660.4 82.6h0M661.2 82.7h0M664.5 81.1h0M658.8 82.7h0M662.7 81.1h0M662.8 82.4h0M662 76.7h0M664.7 83h0M666.3 83h0M666.5 80.7h0M663.9 77h0M662.3 82.2h0M667.3 80h0M665.2 78.8h0M665.3 81.7h0M665.7 78.4h0M661.2 82.7h0M667.3 83h0M666.3 79.4h0M659.5 76.1h0M659.3 77.3h0M660.3 77.5h0M666.2 80.7h0M666.1 74.8h0M665.3 82.5h0M659.8 82h0M660.9 80.5h0M659.5 81.7h0M663.6 79.5h0M663.7 77.5h0M664.3 80.8h0M660.9 75.3h0M664.3 83h0M662.3 79.4h0M665.6 79.5h0M664.9 83h0M659.3 81.6h0M664.6 76.4h0M661.9 78.7h0M663.1 75.2h0M663.8 76.6h0M663.5 75.1h0M662.5 75.8h0M659.5 76.9h0" stroke="#63a0d3" stroke-width="1.5" stroke-linecap="round" fill="none"/>
<path d="M415.4 76.3h0M414.2 75.7h0M414.9 75.5h0M414.4 79.2h0M415.7 80.7h0M414.7 77.1h0M415.4 82.2h0M416.5 74.1h0M414.8 78.8h0M417.1 77.6h0M417.8 81.6h0M418.9 75.9h0M419.2 80.1h0M418.1 75.5h0M418.9 76.2h0M418.9 80.8h0M405.5 81.7h0M405.3 76.5h0M404.8 81.7h0M406.7 79.2h0M405.3 81.9h0M404.6 81.7h0M405.1 78.7h0M403.7 78.6h0M404.5 78h0M405.3 80.9h0M406.7 78.9h0M403.9 79.1h0M407.1 80.2h0M409 81.4h0M407.9 81.7h0M410.5 79.4h0M409.4 81.3h0M409.9 80.4h0M411.3 78.8h0M411.8 80.7h0M411.2 80.5h0M408.7 82h0M412.3 80.9h0M409.3 82.4h0M409.3 82.1h0M410.2 80.3h0M412.4 78.1h0M408.5 82.1h0M409.3 81h0M410.3 81.9h0M410.1 78.2h0M410.5 81.8h0M408.6 80.6h0M410.9 81.5h0M409.5 81.9h0M408.6 80.1h0M421 82.3h0M410.7 82.3h0M418 77.7h0M416.9 81.5h0M420 77.2h0M420 80.9h0M414.3 80.5h0M406.3 82.1h0M416.5 82.4h0M403.3 80.7h0M413 82.1h0M414.7 74.9h0M420.8 82.2h0M407.6 75.6h0M417.4 79.6h0M415.6 82.3h0M419 82.3h0M405.3 77.7h0M420.9 75.6h0M415.6 81.6h0M421.4 79.6h0M415.3 78.9h0M413.2 82.1h0M414.7 82.3h0M408.8 82.3h0M404.1 78.9h0M420 79.9h0M418.4 81.9h0M405 82.4h0M419.7 78.1h0M403.2 79.4h0M414.3 78h0M410.5 78.9h0M417 77.8h0M406.1 82h0M408.8 82.4h0M416.9 81h0M417.8 80.6h0M409.6 74.6h0M407.9 81.7h0M421 82.4h0M404 78.9h0M403.4 75.1h0M412.5 81.4h0M409.4 80.5h0M412.2 81.5h0M420.5 79.6h0M409.5 82.1h0M414 82.3h0M421.3 82.4h0M416.4 77h0M410 77.1h0M418.4 78.3h0M420.8 81.6h0M419.3 81.5h0M418.2 81.9h0M409.3 81.8h0M408.2 80.2h0M406 77.2h0M404.6 82.3h0M407.2 82.2h0M416.1 79.1h0M418.1 80.9h0M414.9 81h0M421 81h0M417.7 74.9h0M404.9 81.8h0M408 82.3h0M419.5 79.6h0M411 81.8h0M411.1 76.6h0M420.7 81.3h0M407.3 80.8h0M412.1 82.3h0M411.8 81.8h0M419.3 82.4h0M420.8 78.3h0M409.3 77.9h0M418.8 75.9h0M411.8 75h0M417.4 82.4h0M407.5 81.6h0M406.8 81.4h0M421.2 81.6h0M403.8 82h0M409.6 82.4h0M416.9 81.2h0M413.9 78.1h0M415.4 80h0M417.8 80.5h0M413.7 82.3h0M412.9 82.4h0M410.1 82.2h0M404.5 82.4h0M404.4 78.5h0M417.5 80.3h0M406.1 80.6h0M415.7 82.4h0M405.9 81.9h0M407.8 81.7h0M403.7 81.3h0M409.9 81.8h0M414.5 78.9h0M407.5 75.4h0M403.7 81.9h0M414.4 73.6h0M419.9 73.2h0M405.4 75.1h0M454.5 81.5h0M453.8 82.5h0M453.2 80h0M454.1 81.6h0M455.2 81h0M454.1 82.3h0M452.7 82.9h0M454.5 80.6h0M450.4 81.7h0M452.1 82.6h0M455.5 82.8h0M453.6 83h0M455 82.9h0M453.4 78.5h0M456.4 79.7h0M454.5 78.4h0M456.2 79h0M455 82.7h0M453.7 79.5h0M457.4 80.1h0M454.2 82.9h0M455.8 80h0M456 82.9h0M453.2 81.8h0M456 75h0M452.5 78h0M453.2 80.9h0M453 76.5h0M452.1 78h0M454.1 80.8h0M453 79.1h0M455.2 80.1h0M454.7 76.5h0M455.6 81.6h0M457.4 81.7h0M456.5 75.5h0M448.4 81.6h0M450.6 79.1h0M457.2 82.7h0M445.8 82.5h0M449.7 79.5h0M447.2 82.5h0M457.5 82.6h0M457.6 82.8h0M448 82.9h0M449.6 81.2h0M446.9 82.5h0M458.2 74.8h0M446.9 82.9h0M446.1 82.9h0M444.8 82.4h0M458.3 78.4h0M447.8 80.5h0M455.6 82.4h0M453.7 83h0M446.8 78h0M444.4 81.8h0M454.4 83h0M456 81.7h0M451.7 83h0M458.7 79.6h0M448.2 81.2h0M453.6 81.6h0M446.4 82.9h0M453.8 76.3h0M446.2 81.8h0M447.7 80.4h0M453.2 81.7h0M448.3 79.5h0M458.2 82.9h0M446.7 80h0M451.8 81.5h0M447 80.8h0M456.9 82.2h0M444.9 79.1h0M450.4 82.9h0M455.2 80.4h0M456.2 82.5h0M455.3 81.6h0M448.5 79h0M448.1 79.9h0M452.4 81.4h0M445.6 82.1h0M455.5 79.1h0M455.3 80h0M451.7 83h0M457.9 82.3h0M457 77.1h0M451.6 79h0M455 82.9h0M453.2 82.9h0M458.6 82.6h0M454.1 82.9h0M450.5 79.3h0M448.7 79.3h0M444.7 82.1h0M450.7 81h0M455.2 77h0M454.2 78.1h0M450.4 80.5h0M448.6 77.1h0M445.9 76.3h0M452.9 82.2h0M457.3 82.8h0M457.5 82.4h0M450 80.2h0M448.3 76.8h0M457 82h0M452.5 80.5h0M449.8 76h0M446.8 82.8h0M453.4 82.6h0M455 79.9h0M449.1 73.4h0M449.5 75.9h0M445.2 76.7h0M479.4 78.1h0M478.8 82.1h0M478.9 77.8h0M480.7 79h0M481.4 81.7h0M481.6 82.4h0M480.8 77.1h0M478.4 78.3h0M478.4 76h0M479.9 76.4h0M491.5 75.9h0M488.7 77.4h0M490 79.4h0M491.5 82.1h0M491.4 80h0M491.5 79h0M491 81.7h0M490.3 75.9h0M491.4 79.1h0M491.3 81h0M490 77.2h0M481.3 78.3h0M481.8 77.8h0M480.7 81.3h0M479.4 80.9h0M479.8 75.5h0M480.8 78.3h0M481.8 79.9h0M480.7 76.4h0M480.8 81.6h0M480.7 81.9h0M490.3 80.1h0M487 81.5h0M481.4 76.2h0M487 82.4h0M478.3 82.4h0M491.3 77.9h0M487.6 81.7h0M485.3 80.3h0M483.8 78.2h0M478.5 82.2h0M480.4 78.2h0M478.3 82.3h0M484.3 78.6h0M479.9 80.5h0M488.7 77.2h0M480.1 77.7h0M481.5 81h0M488 82.3h0M478.3 82.4h0M480.9 79.6h0M486.8 80.5h0M485.8 78.3h0M478.9 78.7h0M479 82.1h0M489.5 79.5h0M484.6 82.1h0M488.8 80.3h0M489.3 80.9h0M480.1 81.8h0M477.8 80.4h0M483.6 74.3h0M484.9 79.7h0M482.7 82.4h0M490.2 82.4h0M487.6 82.4h0M484.3 81.8h0M479.8 76.2h0M483.8 82.1h0M487.9 82h0M490.8 81.5h0M478.8 78.8h0M488.2 74.8h0M488.5 81.8h0M485.7 78.7h0M485.6 82.1h0M487.7 82.3h0M481.4 81.9h0M491.2 77.6h0M484.9 77h0M479.5 81.6h0M489.1 77.9h0M487.1 76.7h0M486.4 79.1h0M481.7 76.3h0M480.7 82.4h0M486.2 78.4h0M481.3 74.2h0M491 82.3h0M489.1 82.3h0M490.7 80.5h0M480.4 77.6h0M482.2 82.4h0M487.4 74.3h0M480.6 80.5h0M480.5 77.1h0M482.5 75.6h0M485.1 82.2h0M480.1 79.4h0M485.7 82.3h0M483.2 81.2h0M485.7 82h0M480.4 81.4h0M478.5 79.3h0M490.7 81.3h0M487.4 76.2h0M489.6 82.4h0M484.2 76.5h0M490.8 75.6h0M479.4 82.4h0M484.9 79.4h0M479.9 82.3h0M479.9 82.4h0M489.9 81.3h0M486.4 81.9h0M482.5 82.1h0M484.6 74.5h0M491.2 70.4h0M486.1 75.8h0M483.6 72.3h0M487.1 76.7h0M484.4 70h0M515.2 79.9h0M517.6 78.9h0M516.5 82.3h0M515.9 81.3h0M516.5 78.9h0M517.1 79.7h0M514.5 81.9h0M517.1 76h0M516.6 77.4h0M518 79.7h0M518.6 82.4h0M520.1 80.5h0M517.6 79.4h0M518.7 79.8h0M517.4 80h0M518.4 81.6h0M517.7 80.4h0M520.5 81.7h0M518.6 79.2h0M519.1 81.3h0M518 80.5h0M518.5 81.7h0M515.8 81.6h0M518.6 81.4h0M517.9 82.1h0M519.2 82.1h0M517.3 82.4h0M515.7 79.9h0M516.3 80.2h0M519 74.3h0M518.2 77.9h0M516.8 74.4h0M519.4 80.5h0M519.2 82.1h0M517 74.3h0M518.8 75.9h0M517.7 80.2h0M519.2 74.6h0M518.6 74.1h0M513.2 79.9h0M514 80.3h0M512.6 75.3h0M512.4 82.1h0M514.3 76.9h0M510.7 77.9h0M512.7 79.9h0M514.1 79.4h0M513.4 80.1h0M512.2 81.2h0M518.5 81.5h0M518.8 82.4h0M516.6 81.9h0M512.2 80.6h0M515.7 81.8h0M511.7 81.4h0M518.8 75.5h0M519.6 78.2h0M520.6 82.4h0M519.5 81.5h0M509 82.2h0M519.3 79h0M509.7 81.8h0M520.1 74.2h0M520.5 75.9h0M520.1 76.1h0M514.4 82h0M515.4 82.4h0M515.4 81.9h0M511.2 81.1h0M516.9 80.7h0M510 74.5h0M511.3 79.9h0M519 78.8h0M514.1 76h0M509.8 80.3h0M510.2 80.6h0M512.3 76.9h0M514.2 82.2h0M510.8 82.3h0M514.8 76.4h0M519.9 78h0M509.6 79.3h0M511.7 82.3h0M509.9 77.7h0M509.4 76.3h0M512.6 81.5h0M519.8 82.2h0M513.9 76.5h0M516.5 82.1h0M509.8 77.1h0M516.3 75h0M510.8 81.9h0M517.3 81.8h0M520.7 81.8h0M510.1 80.7h0M509.7 81.4h0M520.2 79.1h0M513.9 79h0M518.8 82.4h0M520.5 75.8h0M513.7 82.2h0M517.4 80.2h0M510 79.7h0M514.9 79.7h0M508.9 80.2h0M514.2 76.4h0M517.5 78.4h0M515.7 82.1h0M518.9 82h0M520.5 80.4h0M513.7 81.3h0M514.4 80.6h0M510.5 81.2h0M509.1 80.1h0M510 82.1h0M508.9 80.5h0M509 80.8h0M516.8 82.3h0M512.8 81.8h0M514.1 81.8h0M513.2 76.4h0M508.8 75.5h0M519.8 79.3h0M518 78.2h0M513.8 82.3h0M510 79.7h0M517 78.5h0M520.8 81.9h0M509 71.8h0M509.7 76.3h0M519.5 74.2h0M518.9 74.4h0M510.1 74.1h0M545.5 82.7h0M543 77.1h0M544.9 78.7h0M543 79h0M542.4 79.3h0M543.5 77.8h0M543.6 80.2h0M546 76.6h0M543.9 82.3h0M544.3 79.8h0M543.6 80.8h0M546.6 79.2h0M544.8 81.2h0M542.5 75.2h0M545.9 82h0M543.7 82.3h0M546 77.8h0M545.3 82.8h0M545.4 82.8h0M544.1 74.7h0M541.6 82.1h0M541.6 80.5h0M542.3 77.4h0M541.5 79.8h0M543.6 77.8h0M542.8 79.6h0M539 79.5h0M540 79.4h0M541.3 82.4h0M549.9 81.7h0M543.8 80.1h0M542.4 82.6h0M547 82h0M549 80.9h0M542.6 82h0M546.1 82.9h0M549.2 82.8h0M546.6 83h0M545.4 82.8h0M546.9 81.6h0M549.8 82.6h0M549.7 78.4h0M543.5 78h0M543.6 82h0M547.2 77.7h0M543.4 79.1h0M540.2 77h0M549.6 75.2h0M543.2 78.9h0M546.7 82.8h0M539.6 79.7h0M550 79.2h0M545.4 75.5h0M540.8 75.3h0M539.7 77.6h0M541.4 78.5h0M543.2 75.7h0M544.8 78.3h0M540.2 76.8h0M541.8 78.3h0M541.4 82.9h0M540.2 81.3h0M538.6 82.6h0M539.1 82.7h0M544.3 82.8h0M546.4 82.5h0M543.1 81.3h0M545.6 81.5h0M539.3 79.6h0M544.5 82.8h0M545.4 83h0M545.7 82.4h0M546.3 82.9h0M545.8 81.7h0M538.5 81h0M539.8 77h0M542.1 82.8h0M543.3 79.8h0M544.8 79.1h0M546.1 74.8h0M545.9 82.2h0M549.6 81.5h0M541.9 83h0M546.9 80.3h0M540.1 75.6h0M540.3 80.3h0M545.4 81.7h0M543 79.9h0M544.8 82.2h0M542.6 81.2h0M543.5 82.2h0M540.9 72.3h0M545.7 76.1h0M544.5 72.1h0M544.9 76.5h0M542 72h0M576.2 80.1h0M574.1 77.5h0M573.7 79h0M573.8 82.1h0M577 81.9h0M576.4 81.7h0M574 82.3h0M577.5 79.7h0M576.7 77.8h0M576.3 79.6h0M574 81h0M574.2 78.5h0M576.4 80.2h0M578.2 81.5h0M579.4 80.8h0M578.3 79.4h0M577.6 79.8h0M578.2 81.1h0M575.8 77.6h0M578 78.1h0M575.5 78.7h0M574.1 80.5h0M573.7 79.1h0M571.5 78.9h0M573 81.3h0M573 81.9h0M571.7 81.9h0M573.1 79.5h0M571.5 82.3h0M573.8 79.8h0M568.3 79.1h0M570.1 78.7h0M569.6 78.7h0M570.2 77.3h0M569.9 79.7h0M568.7 78.1h0M570.4 81.5h0M568.2 81.6h0M567.7 79.3h0M570.5 79.2h0M571.1 82.1h0M571.9 82.4h0M573.6 82.2h0M573.8 82.3h0M569.9 79.9h0M577.4 79.7h0M569 80.8h0M576.7 78.9h0M578.2 78.2h0M579.2 82.2h0M573.2 80.4h0M567.8 82.4h0M570 81.8h0M577.5 82.1h0M575.1 80.8h0M578 82.3h0M569.5 82.3h0M571.1 81.7h0M571.3 81.4h0M569.1 82.4h0M569.8 77.3h0M575.2 79.2h0M577.8 79h0M569.2 80.5h0M573.2 77.5h0M577.8 78.1h0M574.1 80.5h0M571.5 80.9h0M568.1 80.2h0M571.6 75.7h0M579.3 82.4h0M575.1 81.8h0M576.5 75.4h0M579.2 81.9h0M571.5 80.3h0M576.8 82.4h0M573.1 80.2h0M577.4 76.7h0M575.6 79.4h0M573 78.1h0M573.2 81.4h0M576.2 77.1h0M579.2 79.5h0M575.3 82.4h0M579.2 82.4h0M577.5 82.4h0M574.7 81.4h0M577.5 82.4h0M574.3 79.7h0M571.9 81.6h0M578.4 76h0M576.6 78.9h0M573.8 79h0M577.7 82.4h0M567.9 75.2h0M573.6 81.9h0M570.1 82.2h0M573.6 82.4h0M570.1 74.8h0M578.5 75.8h0M568.6 72h0M573.9 74.8h0M574.9 76.7h0M574.3 75.3h0M575.4 71.3h0M603.5 82.4h0M606.6 82.2h0M605.7 81.4h0M606.6 79.7h0M604 82.9h0M605.3 81.2h0M605.4 82.1h0M606.6 82.5h0M605.8 78.8h0M605.3 82.7h0M606.6 81h0M605.7 81h0M604.7 82h0M605.6 82.7h0M605.2 82.6h0M605 81.7h0M606.6 81.5h0M600.2 79.8h0M603.9 80.4h0M599.9 80.1h0M602.3 80.8h0M599.4 79.3h0M600.6 82.4h0M601 78.2h0M600.2 82.4h0M599.9 83h0M606.5 75.5h0M605.1 76.5h0M603.1 81.9h0M606 79.4h0M606.6 82.6h0M606.6 82.4h0M605.2 78.2h0M605.9 78.2h0M606.5 79.6h0M606.6 78.9h0M600.3 77.5h0M600.9 80h0M604.1 77.6h0M604.2 82.9h0M601.1 75.1h0M603 81.1h0M605.2 81.7h0M597.5 82.8h0M604.1 80.5h0M603.5 81.4h0M605.9 80.7h0M596.4 79.8h0M596.4 78.3h0M597.1 77.8h0M602.1 82.8h0M603 80.9h0M604.6 83h0M605.5 75.8h0M606.2 76.6h0M598.1 82.9h0M598.6 75.2h0M601.4 82.9h0M598.1 79.7h0M605.2 77.6h0M596.4 80.7h0M602.5 79.9h0M597.2 81.8h0M599.6 80.7h0M596.3 77.4h0M603.9 81.5h0M597.7 76.2h0M605.6 77.6h0M601.3 82h0M597.5 80.1h0M606.4 75.9h0M606.5 78h0M598.6 80.6h0M602.1 82.5h0M600.4 81.9h0M600 81.9h0M603.3 77.9h0M597.1 74.9h0M604.5 81.2h0M606 78.8h0M601.8 76.1h0M602.8 79.1h0M596.3 82.9h0M602.4 79.1h0M600.2 82.6h0M602 75.6h0M596.6 82.5h0M600.2 79.5h0M603.3 80.9h0M596.5 81.2h0M600.6 75.3h0M601.8 81.8h0M599.9 82.8h0M599.6 80.9h0M605.2 82.6h0M606 80.3h0M602.4 83h0M602.3 82.8h0M597.3 71h0M600 74.6h0M596.3 74.7h0M601.9 75.7h0M599.5 75.3h0M606.4 72.6h0M632.3 81.9h0M632.9 78.2h0M631 80.2h0M629 76.7h0M632.9 80.9h0M632.9 81.1h0M631.4 81h0M631.9 80.9h0M632 78.1h0M631.8 74.5h0M632.7 81.8h0M631.4 80.1h0M630.3 81h0M632.8 75.8h0M630.8 75.8h0M631.7 80.3h0M632.7 77.6h0M632.9 78.4h0M630.9 79.8h0M631.6 80.2h0M622.7 75.8h0M626.2 81.4h0M624.5 78.3h0M625.9 81h0M624 77h0M623.4 77h0M624 81.9h0M624.1 80.9h0M623.3 78.6h0M627.3 82.3h0M627.3 81.4h0M626.5 79.1h0M626 75h0M626.7 80.2h0M627.2 75.7h0M626.9 75.5h0M627.1 77.1h0M627.6 82.3h0M628.9 78.8h0M625 81.9h0M626 77.5h0M631.9 82.3h0M629.8 81.8h0M624.4 79.9h0M628.2 78.9h0M630.1 81.3h0M632.5 79.5h0M623.2 81.9h0M631.6 76.9h0M631 81.3h0M626.2 81.9h0M628.5 75.4h0M632 81.6h0M630.1 82.1h0M629.2 80.6h0M631.7 79.1h0M632.8 77.1h0M629.8 79.3h0M631.1 82.1h0M628.2 78.5h0M628.2 79.4h0M628.1 82h0M630.2 79.5h0M623 80.1h0M624.6 80.2h0M630.6 81.1h0M624.4 82h0M626.2 76.6h0M630.8 74.3h0M626.6 79.4h0M627.3 75.6h0M631.4 79.5h0M629.5 76.7h0M632.3 81.8h0M631.4 82.4h0M630.7 80.9h0M629.1 81.6h0M631.6 82.4h0M628.2 81.6h0M624.1 81.7h0M624.6 82.2h0M631.2 80.8h0M624.1 79.9h0M625.1 82.4h0M630.1 81.6h0M627.2 76.1h0M624 82.1h0M629.1 82.4h0M624.1 82.4h0M631.7 81.3h0M627.5 80.5h0M625.1 76.9h0M630 78.8h0M625.7 75.5h0M622.9 75.8h0M622.9 73.4h0M629.4 76.1h0M629 75.3h0M630.8 71.7h0M649.8 81.7h0M651.2 76.1h0M649.8 80.4h0M648.3 79.5h0M648.2 81h0M651.2 78.5h0M650 76.4h0M650.7 79.4h0M649.8 76.8h0M652.2 76.6h0M651.3 80.7h0M650.6 81.7h0M650.6 79h0M651.1 80.6h0M651.4 79.8h0M652.2 77.9h0M653.8 74.8h0M651.8 76.2h0M652.3 75.3h0M651.9 81.1h0M654.8 75.6h0M652.8 76.5h0M652.3 74.1h0M652 77.3h0M652.1 80.7h0M651 79.4h0M650.8 79.7h0M648.8 80h0M650.5 77.3h0M649.3 77.5h0M650 76.5h0M648.8 79.7h0M649.5 76.8h0M650.7 76.2h0M650.2 80.5h0M651.6 77.9h0M650.5 78.3h0M652.6 77.9h0M652.4 77.1h0M652.7 81.4h0M651.4 81h0M653.7 80.6h0M652.7 81.8h0M651.9 78.3h0M651.9 80.5h0M652.9 79.1h0M654.8 78.4h0M653.5 77.7h0M653.6 78.2h0M655.3 81.6h0M654.8 80.8h0M655.2 80.9h0M654.2 79.1h0M654.5 80.1h0M652.1 79.4h0M654.1 77.6h0M649.5 78.1h0M649.1 80.8h0M655.5 81.8h0M649.4 80.9h0M652.8 74.2h0M649.3 81.8h0M653 78h0M649.5 77.2h0M654.7 81.9h0M651.8 78.1h0M652.6 77.2h0M647.9 81.8h0M650.8 77.4h0M652.9 77.3h0M648.4 80.6h0M655.2 76.6h0M652.3 81.7h0M654 81.5h0M652.1 81.3h0M655 77.8h0M648.5 79.7h0M654.9 80.4h0M651.3 81.9h0M649.4 80.1h0M653.4 81.9h0M654.7 81.1h0M650.5 81.9h0M653.1 81.8h0M653.4 80.8h0M654.4 81.9h0M651.8 80.7h0M650 80.5h0M648.3 81.1h0M647.3 80.8h0M650.6 81.3h0M653.7 81.7h0M647.6 81.5h0M647.7 81.7h0M650.7 80.9h0M652.5 81.2h0M647.9 81.7h0M649.5 81.9h0M648.1 74.6h0M651.7 81.2h0M654.7 81.6h0M653 80.5h0M650.6 79.6h0M652.7 80h0M647.9 80.5h0M653.1 78.1h0M653.1 70.9h0M649.2 69.5h0M648.3 75.1h0M652.5 74.2h0M650.9 69.9h0M649.5 75.8h0M677.2 74.3h0M676 80.1h0M676.8 75.4h0M677.7 79.9h0M674.8 79h0M677.4 80.2h0M677.4 78.8h0M678.4 78.9h0M677.5 81.3h0M675 81.7h0M678.4 77.9h0M676.7 81.9h0M673.4 77.3h0M671.5 78.1h0M672.9 79.4h0M671.7 81.5h0M671.4 80.6h0M672.6 77.2h0M671.6 78.9h0M671.2 76.9h0M671.3 77.6h0M670.2 79.5h0M672.5 78.7h0M672.6 80.9h0M674.3 75.2h0M674.9 74.7h0M673.3 80.8h0M673.6 81.8h0M674.2 81.3h0M676.6 76.6h0M675.5 78.5h0M673 77h0M673.8 76.5h0M675.8 81.1h0M673.6 79.1h0M672.2 81.5h0M677.1 73.8h0M674.8 80.2h0M670.3 81.9h0M675 80h0M677.7 81.1h0M677.4 81.2h0M677.8 79.7h0M672.2 81.7h0M675 81.7h0M672.1 76.5h0M676.4 77.5h0M671.6 77h0M669.9 81.8h0M674.8 74.7h0M675.3 76.1h0M672.6 77.3h0M676.2 77.6h0M675.3 75.5h0M672 78h0M670.3 81.8h0M673.3 80h0M674 81.9h0M674.7 75.8h0M677.3 81.9h0M671.3 81.6h0M672.2 81.9h0M677 78.6h0M669.8 79.6h0M670.9 80.6h0M677.4 81.7h0M672 78.1h0M670.9 81.9h0M675.5 81.4h0M670.7 79.4h0M677.3 75.3h0M671.8 75.3h0M673.5 81.8h0M669.9 81.6h0M673.8 79.3h0M673.8 76.5h0M677.5 81.9h0M671.3 80.6h0M675.6 75.3h0M675.3 81.8h0M672.3 81.2h0M675.5 74.3h0M677.4 79h0M677.5 79.6h0M671.8 75.3h0M677.3 80.7h0M675.1 81.8h0M672.4 81.7h0M673.7 79.2h0M671.9 75.9h0M671.9 75.6h0M674.6 70.6h0M676 75.3h0M675.8 75h0" stroke="#a9d4e5" stroke-width="1.5" stroke-linecap="round" fill="none"/>
<path d="M387.8 67.8h0M399.9 67h0M428 59.9h0M426.7 69.7h0M437.7 64.4h0M436.7 67h0M465.6 59.9h0M466.1 64.4h0M501.8 61.8h0M502.2 63.7h0M557.5 60.4h0M560.8 69h0M562.7 69h0M582.4 34.5h0M582.4 47.5h0M582.4 49.3h0M582.4 51.6h0M582.4 56.9h0M582.4 64.4h0M582.4 66.3h0M582.4 75.2h0M582.4 74.4h0M582.4 73.6h0M582.4 72.9h0M582.4 72.1h0M582.4 71.3h0M582.4 70.5h0M582.4 69.8h0M582.4 69h0M585 66.3h0M612 68.2h0M643.1 61.4h0M642.6 70.4h0M666.9 72.3h0" stroke="#5894cb" stroke-width="1.9" stroke-linecap="square" fill="none"/>
<path d="M404.4 54.7h0M449 56.4h0M445.6 63.9h0M481.9 26.8h0M480 61.8h0M517.4 57.8h0M513 65.2h0M518.9 65.5h0M539.2 62.8h0M549.4 49.7h0M572.4 66.9h0M630.2 57.4h0M625.6 66.3h0M653.9 63.5h0M648 66.3h0M673.4 66.3h0" stroke="#9cc9df" stroke-width="1.9" stroke-linecap="square" fill="none"/>
<line x1="374.5" y1="38.3" x2="378.9" y2="38.3" stroke="#555" stroke-width="0.9"/>
<text transform="translate(26.4,69.6) rotate(-90) scale(1,0.93)" font-size="12" text-anchor="middle" fill="#111">&#8722;log<tspan font-size="8.6" dy="2.4">10</tspan><tspan dy="-1.4" font-size="14.5">(</tspan><tspan dy="-1" font-size="12">p</tspan><tspan font-size="14.5" dy="1">)</tspan></text>
<text transform="translate(363.3,69.6) rotate(-90) scale(1,0.93)" font-size="12" text-anchor="middle" fill="#111">&#8722;log<tspan font-size="8.6" dy="2.4">10</tspan><tspan dy="-1.4" font-size="14.5">(</tspan><tspan dy="-1" font-size="12">p</tspan><tspan font-size="14.5" dy="1">)</tspan></text>
<text x="39.6" y="155.6" font-size="14" text-anchor="start" font-weight="bold" font-style="normal" fill="#000" >C</text>
<text x="241.5" y="155.3" font-size="9.8" text-anchor="middle" font-weight="normal" font-style="normal" fill="#000" >Bb-a-hap1-chr13: 1,526,880-1,621,239</text>
<text x="458.3" y="156" font-size="14" text-anchor="start" font-weight="bold" font-style="normal" fill="#000" >D</text>
<text x="570.2" y="155.3" font-size="9.8" text-anchor="middle" font-weight="normal" font-style="normal" fill="#000" >Bb-a-hap2-chr13: 1,595,746-1,646,832</text>
<path d="M163.6 590 V157.3 H175.8 V590" stroke="#a2a2f0" stroke-width="0.9" fill="none" stroke-dasharray="3,2.3"/>
<path d="M225.5 590 V157.3 H237.2 V590" stroke="#a2a2f0" stroke-width="0.9" fill="none" stroke-dasharray="3,2.3"/>
<path d="M269.5 590 V157.3 H283.1 V590" stroke="#a2a2f0" stroke-width="0.9" fill="none" stroke-dasharray="3,2.3"/>
<path d="M360.7 590 V157.3 H373.3 V590" stroke="#a2a2f0" stroke-width="0.9" fill="none" stroke-dasharray="3,2.3"/>
<rect x="163.6" y="590" width="12.2" height="5.8" fill="#8a9ccd"/>
<rect x="225.5" y="590" width="11.7" height="5.8" fill="#8a9ccd"/>
<rect x="269.5" y="590" width="13.6" height="5.8" fill="#8a9ccd"/>
<rect x="360.7" y="590" width="12.6" height="5.8" fill="#8a9ccd"/>
<path d="M598.4 590 V157.6 H607.5 V590" stroke="#a2a2f0" stroke-width="0.9" fill="none" stroke-dasharray="3,2.3"/>
<path d="M607.5 590 V157.6 H633 V590" stroke="#f2a6e6" stroke-width="0.9" fill="none" stroke-dasharray="3,2.3" stroke-dashoffset="2.6"/>
<line x1="46" y1="241.3" x2="679" y2="241.3" stroke="#e4402c" stroke-width="1" stroke-dasharray="4,3"/>
<line x1="39.5" y1="160.3" x2="446" y2="160.3" stroke="#333" stroke-width="1.2"/>
<line x1="39.5" y1="160" x2="39.5" y2="577" stroke="#444" stroke-width="1.1"/>
<line x1="37" y1="576.9" x2="446" y2="576.9" stroke="#999" stroke-width="1.3"/>
<line x1="445.6" y1="160" x2="445.6" y2="577.5" stroke="#999" stroke-width="1.4"/>
<line x1="458.7" y1="160.4" x2="679.3" y2="160.4" stroke="#333" stroke-width="1.2"/>
<line x1="458.7" y1="160" x2="458.7" y2="577" stroke="#444" stroke-width="1.1"/>
<line x1="456" y1="576.9" x2="679.5" y2="576.9" stroke="#999" stroke-width="1.3"/>
<line x1="679.2" y1="160" x2="679.2" y2="577.2" stroke="#444" stroke-width="1.1"/>
<text x="35.3" y="580.1" font-size="9.2" text-anchor="end" font-weight="normal" font-style="normal" fill="#222" >0</text>
<line x1="35.6" y1="488.3" x2="39.5" y2="488.3" stroke="#444" stroke-width="0.9"/>
<line x1="679.2" y1="488.3" x2="683" y2="488.3" stroke="#444" stroke-width="0.9"/>
<text x="35.3" y="491.6" font-size="9.2" text-anchor="end" font-weight="normal" font-style="normal" fill="#222" >20kb</text>
<line x1="35.6" y1="399.8" x2="39.5" y2="399.8" stroke="#444" stroke-width="0.9"/>
<line x1="679.2" y1="399.8" x2="683" y2="399.8" stroke="#444" stroke-width="0.9"/>
<text x="35.3" y="403.1" font-size="9.2" text-anchor="end" font-weight="normal" font-style="normal" fill="#222" >40kb</text>
<line x1="35.6" y1="311.3" x2="39.5" y2="311.3" stroke="#444" stroke-width="0.9"/>
<line x1="679.2" y1="311.3" x2="683" y2="311.3" stroke="#444" stroke-width="0.9"/>
<text x="35.3" y="314.6" font-size="9.2" text-anchor="end" font-weight="normal" font-style="normal" fill="#222" >60kb</text>
<line x1="35.6" y1="222.8" x2="39.5" y2="222.8" stroke="#444" stroke-width="0.9"/>
<line x1="679.2" y1="222.8" x2="683" y2="222.8" stroke="#444" stroke-width="0.9"/>
<text x="35.3" y="226.1" font-size="9.2" text-anchor="end" font-weight="normal" font-style="normal" fill="#222" >80kb</text>
<line x1="39.6" y1="576.9" x2="39.6" y2="578.8" stroke="#444" stroke-width="0.9"/>
<text x="39.6" y="587.2" font-size="9.2" text-anchor="middle" font-weight="normal" font-style="normal" fill="#222" >0</text>
<line x1="125.6" y1="576.9" x2="125.6" y2="578.8" stroke="#444" stroke-width="0.9"/>
<text x="125.8" y="587.2" font-size="9.2" text-anchor="middle" font-weight="normal" font-style="normal" fill="#222" >20kb</text>
<line x1="211.6" y1="576.9" x2="211.6" y2="578.8" stroke="#444" stroke-width="0.9"/>
<text x="211.8" y="587.2" font-size="9.2" text-anchor="middle" font-weight="normal" font-style="normal" fill="#222" >40kb</text>
<line x1="297.6" y1="576.9" x2="297.6" y2="578.8" stroke="#444" stroke-width="0.9"/>
<text x="297.8" y="587.2" font-size="9.2" text-anchor="middle" font-weight="normal" font-style="normal" fill="#222" >60kb</text>
<line x1="383.6" y1="576.9" x2="383.6" y2="578.8" stroke="#444" stroke-width="0.9"/>
<text x="383.8" y="587.2" font-size="9.2" text-anchor="middle" font-weight="normal" font-style="normal" fill="#222" >80kb</text>
<line x1="458.6" y1="576.9" x2="458.6" y2="578.8" stroke="#444" stroke-width="0.9"/>
<text x="458.6" y="587.2" font-size="9.2" text-anchor="middle" font-weight="normal" font-style="normal" fill="#222" >0</text>
<line x1="501.9" y1="576.9" x2="501.9" y2="578.8" stroke="#444" stroke-width="0.9"/>
<text x="501.9" y="587.2" font-size="9.2" text-anchor="middle" font-weight="normal" font-style="normal" fill="#222" >10kb</text>
<line x1="545.2" y1="576.9" x2="545.2" y2="578.8" stroke="#444" stroke-width="0.9"/>
<text x="545.2" y="587.2" font-size="9.2" text-anchor="middle" font-weight="normal" font-style="normal" fill="#222" >20kb</text>
<line x1="588.5" y1="576.9" x2="588.5" y2="578.8" stroke="#444" stroke-width="0.9"/>
<text x="588.5" y="587.2" font-size="9.2" text-anchor="middle" font-weight="normal" font-style="normal" fill="#222" >30kb</text>
<line x1="631.8" y1="576.9" x2="631.8" y2="578.8" stroke="#444" stroke-width="0.9"/>
<text x="631.8" y="587.2" font-size="9.2" text-anchor="middle" font-weight="normal" font-style="normal" fill="#222" >40kb</text>
<line x1="675.1" y1="576.9" x2="675.1" y2="578.8" stroke="#444" stroke-width="0.9"/>
<text x="673.5" y="587.2" font-size="9.2" text-anchor="middle" font-weight="normal" font-style="normal" fill="#222" >50kb</text>
<text transform="translate(7.8,379.6) rotate(-90)" font-size="9.8" text-anchor="middle" fill="#222">Bb-a-hap1-chr13: 1,526,880-1,621,239</text>
<path d="M39.6 576.8 L445.6 160.3" stroke="#1a1a1a" stroke-width="1.3" fill="none" stroke-linecap="round"/>
<rect x="53.5" y="557" width="5.5" height="5.5" fill="#000"/>
<rect x="67.8" y="544.6" width="3" height="3" fill="#000"/>
<rect x="115.5" y="494.9" width="3.6" height="3.6" fill="#000"/>
<rect x="130.8" y="480.1" width="3.2" height="3.2" fill="#000"/>
<rect x="307.4" y="298.8" width="3.2" height="3.2" fill="#000"/>
<rect x="345.2" y="260.6" width="3" height="3" fill="#000"/>
<circle cx="90.9" cy="523.6" r="1.1" fill="#222"/>
<circle cx="108.2" cy="506.3" r="1.1" fill="#222"/>
<circle cx="141.8" cy="471.3" r="1.1" fill="#222"/>
<circle cx="160.6" cy="452.4" r="1.1" fill="#222"/>
<circle cx="222" cy="389.5" r="1.1" fill="#222"/>
<circle cx="267" cy="343.3" r="1.1" fill="#222"/>
<circle cx="320.6" cy="288.8" r="1.1" fill="#222"/>
<circle cx="371.2" cy="237.3" r="1.1" fill="#222"/>
<path d="M163.4 247.9 L176.2 234.6" stroke="#2a2a2a" stroke-width="0.95" fill="none" stroke-linecap="round"/>
<path d="M225.3 247.9 L236.2 236.2" stroke="#2a2a2a" stroke-width="0.95" fill="none" stroke-linecap="round"/>
<path d="M269.6 248.9 L283 233.6" stroke="#2a2a2a" stroke-width="0.95" fill="none" stroke-linecap="round"/>
<path d="M155.9 279.4 L163.4 273.6" stroke="#2a2a2a" stroke-width="0.95" fill="none" stroke-linecap="round"/>
<path d="M144.2 298.3 L153.1 291.7" stroke="#2a2a2a" stroke-width="0.95" fill="none" stroke-linecap="round"/>
<path d="M215.9 281.8 L225.3 274.3" stroke="#2a2a2a" stroke-width="0.95" fill="none" stroke-linecap="round"/>
<path d="M201.6 306.7 L207 301" stroke="#2a2a2a" stroke-width="0.95" fill="none" stroke-linecap="round"/>
<path d="M209 298.5 L215.1 291.7" stroke="#2a2a2a" stroke-width="0.95" fill="none" stroke-linecap="round"/>
<path d="M259.1 281.8 L269.6 273.6" stroke="#2a2a2a" stroke-width="0.95" fill="none" stroke-linecap="round"/>
<path d="M252.3 294.9 L256 290" stroke="#2a2a2a" stroke-width="0.95" fill="none" stroke-linecap="round"/>
<path d="M146.3 359 L153 352" stroke="#2a2a2a" stroke-width="0.95" fill="none" stroke-linecap="round"/>
<path d="M155 350 L161.2 342.6 L183.7 320.1" stroke="#2a2a2a" stroke-width="0.95" fill="none" stroke-linecap="round"/>
<path d="M186.5 317 L191.2 314.1" stroke="#2a2a2a" stroke-width="0.95" fill="none" stroke-linecap="round"/>
<path d="M203.1 360.5 L212 352" stroke="#2a2a2a" stroke-width="0.95" fill="none" stroke-linecap="round"/>
<path d="M214 349.5 L236 329.1" stroke="#2a2a2a" stroke-width="0.95" fill="none" stroke-linecap="round"/>
<path d="M244.6 198.3 L251.6 192.2" stroke="#2a2a2a" stroke-width="0.95" fill="none" stroke-linecap="round"/>
<path d="M313.6 358.7 L320 353" stroke="#2a2a2a" stroke-width="0.95" fill="none" stroke-linecap="round"/>
<path d="M323 350 L335 340.9" stroke="#2a2a2a" stroke-width="0.95" fill="none" stroke-linecap="round"/>
<path d="M361.1 339.3 L373.4 327.1" stroke="#2a2a2a" stroke-width="0.95" fill="none" stroke-linecap="round"/>
<path d="M407.1 365.4 L414.7 359.3" stroke="#2a2a2a" stroke-width="0.95" fill="none" stroke-linecap="round"/>
<path d="M144.8 406.3 L150 401" stroke="#2a2a2a" stroke-width="0.95" fill="none" stroke-linecap="round"/>
<path d="M154 397.5 L165 386.5" stroke="#2a2a2a" stroke-width="0.95" fill="none" stroke-linecap="round"/>
<path d="M168 382 L176.2 373.4" stroke="#2a2a2a" stroke-width="0.95" fill="none" stroke-linecap="round"/>
<path d="M250.7 407.9 L282.9 374.2" stroke="#2a2a2a" stroke-width="0.95" fill="none" stroke-linecap="round"/>
<path d="M313.6 403.3 L318 400" stroke="#2a2a2a" stroke-width="0.95" fill="none" stroke-linecap="round"/>
<path d="M323 396 L335.6 386.5" stroke="#2a2a2a" stroke-width="0.95" fill="none" stroke-linecap="round"/>
<path d="M360.2 386.5 L373.4 373.6" stroke="#2a2a2a" stroke-width="0.95" fill="none" stroke-linecap="round"/>
<path d="M206.1 468.2 L213 461" stroke="#2a2a2a" stroke-width="0.95" fill="none" stroke-linecap="round"/>
<path d="M216 458.5 L237 438.3" stroke="#2a2a2a" stroke-width="0.95" fill="none" stroke-linecap="round"/>
<path d="M252.3 466.7 L290.6 427.8" stroke="#2a2a2a" stroke-width="0.95" fill="none" stroke-linecap="round"/>
<path d="M293 424 L300 417" stroke="#2a2a2a" stroke-width="0.95" fill="none" stroke-linecap="round"/>
<path d="M303 412.5 L307.4 407.9" stroke="#2a2a2a" stroke-width="0.95" fill="none" stroke-linecap="round"/>
<path d="M310.5 469.2 L316 465" stroke="#2a2a2a" stroke-width="0.95" fill="none" stroke-linecap="round"/>
<path d="M320 461.5 L335.6 449.3" stroke="#2a2a2a" stroke-width="0.95" fill="none" stroke-linecap="round"/>
<path d="M360.2 449.3 L373.4 437" stroke="#2a2a2a" stroke-width="0.95" fill="none" stroke-linecap="round"/>
<path d="M633 189.5 L639 184.2" stroke="#2a2a2a" stroke-width="0.95" fill="none" stroke-linecap="round"/>
<path d="M650.4 183.5 L660.5 178.5" stroke="#2a2a2a" stroke-width="0.95" fill="none" stroke-linecap="round"/>
<path d="M664.9 173.4 L678.3 161" stroke="#2a2a2a" stroke-width="0.95" fill="none" stroke-linecap="round"/>
<path d="M600.1 248 L607.8 240.6" stroke="#2a2a2a" stroke-width="0.95" fill="none" stroke-linecap="round"/>
<path d="M586 279.2 L591 277.5" stroke="#2a2a2a" stroke-width="0.95" fill="none" stroke-linecap="round"/>
<path d="M595 276 L600.1 273.5" stroke="#2a2a2a" stroke-width="0.95" fill="none" stroke-linecap="round"/>
<path d="M559.1 295 L564.1 291.6" stroke="#2a2a2a" stroke-width="0.95" fill="none" stroke-linecap="round"/>
<path d="M586 348 L591 345.5" stroke="#2a2a2a" stroke-width="0.95" fill="none" stroke-linecap="round"/>
<path d="M595 343 L607.8 332.9" stroke="#2a2a2a" stroke-width="0.95" fill="none" stroke-linecap="round"/>
<path d="M557.4 359.8 L564.1 354.1" stroke="#2a2a2a" stroke-width="0.95" fill="none" stroke-linecap="round"/>
<path d="M557.4 406 L564.1 397.9" stroke="#2a2a2a" stroke-width="0.95" fill="none" stroke-linecap="round"/>
<path d="M586 392.5 L591 390" stroke="#2a2a2a" stroke-width="0.95" fill="none" stroke-linecap="round"/>
<path d="M595 388 L607.8 380.1" stroke="#2a2a2a" stroke-width="0.95" fill="none" stroke-linecap="round"/>
<path d="M586 455.7 L591 453" stroke="#2a2a2a" stroke-width="0.95" fill="none" stroke-linecap="round"/>
<path d="M595 450 L607.8 442.9" stroke="#2a2a2a" stroke-width="0.95" fill="none" stroke-linecap="round"/>
<path d="M458.4 576.6 L466.8 563.1 L467.4 556.4 L476.8 546.3 L505.4 516.1 L520.5 504.4" stroke="#2a2a2a" stroke-width="0.95" fill="none" stroke-linecap="round"/>
<path d="M539 492.6 L549 477.5 L564.1 460.7" stroke="#2a2a2a" stroke-width="0.95" fill="none" stroke-linecap="round"/>
<path d="M577.5 177.2 L579.5 176.2" stroke="#2a2a2a" stroke-width="0.95" fill="none" stroke-linecap="round"/>
<path d="M513.5 319 L516 318" stroke="#2a2a2a" stroke-width="0.95" fill="none" stroke-linecap="round"/>
<path d="M579 287 L583 288.5" stroke="#2a2a2a" stroke-width="0.95" fill="none" stroke-linecap="round"/>
<path d="M579 289 L582 286.5" stroke="#2a2a2a" stroke-width="0.95" fill="none" stroke-linecap="round"/>
<rect x="523.8" y="494.6" width="12.8" height="3.6" fill="#000"/>
<path d="M170.50 239.70 L169.90 232.16 L167.75 234.10 L164.46 230.46 L161.94 232.74 L165.22 236.38 L163.07 238.32 Z" fill="#d8261a"/>
<path d="M39.2 589.9 H87.8 L90.3 592.8 L87.8 595.8 H39.2 Z" fill="#7dd0b0"/>
<path d="M105.7 589.9 H137.5 L140 592.8 L137.5 595.8 H105.7 Z" fill="#7dd0b0"/>
<path d="M446.1 590.3 H426.6 L421.6 593 L426.6 595.8 H446.1 Z" fill="#7dd0b0"/>
<text x="39.9" y="602.3" font-size="7.3" text-anchor="start" font-weight="normal" font-style="italic" fill="#222" >mmp7-like</text>
<text x="101.5" y="602.3" font-size="7.3" text-anchor="start" font-weight="normal" font-style="italic" fill="#222" >il18r1-like</text>
<text x="419.3" y="602.3" font-size="7.3" text-anchor="start" font-weight="normal" font-style="italic" fill="#222" >pon2-like</text>
<path d="M458.6 590.5 H506.5 L509 593.5 L506.5 596.5 H458.6 Z" fill="#7dd0b0"/>
<path d="M515.9 590.5 H549.4 L551.9 593.5 L549.4 596.5 H515.9 Z" fill="#7dd0b0"/>
<path d="M679.2 590.5 H642 L637 593.5 L642 596.5 H679.2 Z" fill="#7dd0b0"/>
<text x="466.5" y="602.3" font-size="7.3" text-anchor="start" font-weight="normal" font-style="italic" fill="#222" >mmp7-like</text>
<text x="513.5" y="602.3" font-size="7.3" text-anchor="start" font-weight="normal" font-style="italic" fill="#222" >&#968;il18r1-like</text>
<text x="641.4" y="602.3" font-size="7.3" text-anchor="start" font-weight="normal" font-style="italic" fill="#222" >pon2-like</text>
<rect x="597.4" y="590" width="10" height="5.6" fill="#8a9ccd"/>
<rect x="607.5" y="589.6" width="25.5" height="6" fill="#e07cc4"/>
<text x="561.5" y="592.8" font-size="7.6" text-anchor="start" font-weight="normal" font-style="normal" fill="#222" >insertion</text>
<text x="561.5" y="599.2" font-size="7.6" text-anchor="start" font-weight="normal" font-style="normal" fill="#222" >exon</text>
<line x1="586" y1="591.5" x2="597.6" y2="592.4" stroke="#222" stroke-width="0.7"/>
<line x1="170" y1="595.7" x2="233.2" y2="608.5" stroke="#333" stroke-width="0.8"/>
<line x1="231" y1="595.7" x2="244.2" y2="607.4" stroke="#333" stroke-width="0.8"/>
<line x1="275.9" y1="595.7" x2="263.1" y2="607.4" stroke="#333" stroke-width="0.8"/>
<line x1="367.2" y1="595.7" x2="292.3" y2="608.5" stroke="#333" stroke-width="0.8"/>
<text x="264.6" y="615.3" font-size="9.8" text-anchor="middle" font-weight="normal" font-style="normal" fill="#222" >insertion exon</text>
<text x="54.1" y="642.1" font-size="14" text-anchor="start" font-weight="bold" font-style="normal" fill="#000" >E</text>
<rect x="52.8" y="657.7" width="617.6" height="5.3" fill="#3894c0"/>
<rect x="108.9" y="652.5" width="145.1" height="15.9" fill="#fb8a66"/>
<rect x="264.3" y="652.5" width="178.1" height="15.9" fill="#fb8a66"/>
<rect x="445.1" y="652.5" width="43.8" height="15.9" fill="#fb8a66"/>
<rect x="488.9" y="652.5" width="181.5" height="16" fill="#7dd0b0"/>
<path d="M533.3 660.5 L544.6 652.5 V668.5 Z" fill="#8a9bca"/>
<path d="M587 660.5 L597.4 652.5 V668.5 Z" fill="#8a9bca"/>
<path d="M649.6 660.5 L660 652.5 V668.5 Z" fill="#8a9bca"/>
<text x="539.2" y="643.2" font-size="7.2" text-anchor="middle" font-weight="normal" font-style="normal" fill="#333" >cds</text>
<text x="539.2" y="651.8" font-size="7.2" text-anchor="middle" font-weight="normal" font-style="normal" fill="#333" >03</text>
<text x="592" y="643.2" font-size="7.2" text-anchor="middle" font-weight="normal" font-style="normal" fill="#333" >cds</text>
<text x="592" y="651.8" font-size="7.2" text-anchor="middle" font-weight="normal" font-style="normal" fill="#333" >02</text>
<text x="654.3" y="643.2" font-size="7.2" text-anchor="middle" font-weight="normal" font-style="normal" fill="#333" >cds</text>
<text x="654.3" y="651.8" font-size="7.2" text-anchor="middle" font-weight="normal" font-style="normal" fill="#333" >01</text>
<text x="180" y="663.9" font-size="12.4" text-anchor="middle" font-weight="normal" font-style="normal" fill="#1a1a1a" >LTR/Gypsy</text>
<text x="355.5" y="665.8" font-size="12.1" text-anchor="middle" font-weight="normal" font-style="normal" fill="#1a1a1a" >LINE/CR1-Zenon</text>
<text x="434.8" y="685.1" font-size="12.25" text-anchor="middle" font-weight="normal" font-style="normal" fill="#1a1a1a" >DNA/CMC-EnSpm</text>
<line x1="458" y1="675.3" x2="467.5" y2="668.3" stroke="#222" stroke-width="0.8"/>
<text x="399.6" y="632.6" font-size="12.3" text-anchor="start" font-weight="normal" font-style="normal" fill="#1a1a1a" >Bb-a-hap2-SDR: 1,630,239-1,636,309 (chr13)</text>
<text x="529.2" y="679.9" font-size="12.3" fill="#1a1a1a">Bb-a-<tspan font-style="italic">tesDwa</tspan></text>
<line x1="607.1" y1="596" x2="52.8" y2="656.5" stroke="#1a1a1a" stroke-width="1.6" stroke-dasharray="6.5,6.7" fill="none"/>
<line x1="633" y1="595.6" x2="670.4" y2="652.4" stroke="#1a1a1a" stroke-width="1.6" stroke-dasharray="6.5,6.7" fill="none"/>
<line x1="52.8" y1="664" x2="235.5" y2="714.2" stroke="#1a1a1a" stroke-width="1.6" stroke-dasharray="6.5,6.7" fill="none"/>
<line x1="670.4" y1="668.9" x2="426.4" y2="714.1" stroke="#1a1a1a" stroke-width="1.6" stroke-dasharray="6.5,6.7" fill="none"/>
<line x1="235.5" y1="723" x2="235.5" y2="751.7" stroke="#1a1a1a" stroke-width="1.6" stroke-dasharray="6.5,6.7" fill="none"/>
<line x1="426.4" y1="723.1" x2="239.8" y2="751.7" stroke="#1a1a1a" stroke-width="1.6" stroke-dasharray="6.5,6.7" fill="none"/>
<text x="122.3" y="707.9" font-size="14" text-anchor="start" font-weight="bold" font-style="normal" fill="#000" >F</text>
<rect x="125.1" y="717.0" width="100" height="3" fill="#000"/>
<rect x="125.1" y="755.0" width="193" height="3" fill="#000"/>
<rect x="235.5" y="717.1" width="7.6" height="2.8" fill="#3894c0"/>
<rect x="284.2" y="717.1" width="2.7" height="2.8" fill="#3894c0"/>
<rect x="243.1" y="714.1" width="41.1" height="9" fill="#fb8a66"/>
<rect x="286.9" y="714.1" width="61.2" height="9" fill="#fb8a66"/>
<rect x="348.5" y="714.1" width="13.4" height="9" fill="#fb8a66"/>
<rect x="361.9" y="714.1" width="64.5" height="9" fill="#7dd0b0"/>
<rect x="377.3" y="714.1" width="3.7" height="9" fill="#8a9bca"/>
<rect x="397.4" y="714.1" width="3.5" height="9" fill="#8a9bca"/>
<rect x="417.3" y="714.1" width="4.7" height="9" fill="#8a9bca"/>
<rect x="127" y="713.9" width="1.2" height="9.1" fill="#8a9bca"/>
<rect x="139.4" y="713.9" width="2.8" height="9.1" fill="#8a9bca"/>
<rect x="151.1" y="713.9" width="2.8" height="9.1" fill="#8a9bca"/>
<rect x="169" y="713.9" width="2.9" height="9.1" fill="#8a9bca"/>
<rect x="182.6" y="713.9" width="2.8" height="9.1" fill="#8a9bca"/>
<rect x="194" y="713.9" width="2.4" height="9.1" fill="#8a9bca"/>
<rect x="127" y="751.7" width="1.2" height="10.5" fill="#8a9bca"/>
<rect x="139.4" y="751.7" width="2.8" height="10.5" fill="#8a9bca"/>
<rect x="151.1" y="751.7" width="2.8" height="10.5" fill="#8a9bca"/>
<rect x="169" y="751.7" width="2.9" height="10.5" fill="#8a9bca"/>
<rect x="182.6" y="751.7" width="2.8" height="10.5" fill="#8a9bca"/>
<rect x="194" y="751.7" width="2.4" height="10.5" fill="#8a9bca"/>
<rect x="213.9" y="713.9" width="21.7" height="9.1" fill="#8a9bca"/>
<rect x="213.9" y="751.7" width="25.7" height="10.5" fill="#8a9bca"/>
<rect x="250.1" y="751.7" width="3" height="10.5" fill="#8a9bca"/>
<rect x="257.1" y="751.7" width="3.5" height="10.5" fill="#8a9bca"/>
<rect x="264.8" y="751.7" width="4" height="10.5" fill="#8a9bca"/>
<rect x="318.2" y="751.7" width="35.1" height="11" fill="#8a9bca"/>
<path d="M353.3 751.7 H377.8 V741.2 L387.6 757.2 L377.8 773 V762.7 H353.3 Z" fill="#a8a8a8"/>
<text x="369.6" y="760.7" font-size="9.8" text-anchor="middle" font-weight="normal" font-style="normal" fill="#2a2a2a" >UTR</text>
<line x1="387.6" y1="757" x2="433.1" y2="757" stroke="#333" stroke-width="1.2"/>
<rect x="426.4" y="717.0" width="165.2" height="3" fill="#000"/>
<path d="M431.3 718.5 L440.5 703.2 V734.2 Z" fill="#a8a8a8"/>
<rect x="591.6" y="713.1" width="12.6" height="11.1" fill="#a8a8a8"/>
<rect x="440.5" y="713.3" width="4.7" height="10.4" fill="#8a9bca"/>
<rect x="456.3" y="713.3" width="4.7" height="10.4" fill="#8a9bca"/>
<rect x="468.1" y="713.3" width="2.6" height="10.4" fill="#8a9bca"/>
<rect x="501.7" y="713.3" width="6.3" height="10.4" fill="#8a9bca"/>
<rect x="522.7" y="713.3" width="4" height="10.4" fill="#8a9bca"/>
<rect x="543" y="713.3" width="5.2" height="10.4" fill="#8a9bca"/>
<rect x="550.9" y="713.3" width="1.8" height="10.4" fill="#8a9bca"/>
<rect x="571.9" y="713.3" width="1.8" height="10.4" fill="#8a9bca"/>
<rect x="589.7" y="713.3" width="1.9" height="10.4" fill="#8a9bca"/>
<rect x="440" y="755.0" width="151.6" height="3" fill="#000"/>
<path d="M431.3 756.5 L440.5 741 V772.5 Z" fill="#a8a8a8"/>
<rect x="591.6" y="751.8" width="12.6" height="10" fill="#a8a8a8"/>
<rect x="440.5" y="751.3" width="4.7" height="10.4" fill="#8a9bca"/>
<rect x="456.3" y="751.3" width="4.7" height="10.4" fill="#8a9bca"/>
<rect x="468.1" y="751.3" width="2.6" height="10.4" fill="#8a9bca"/>
<rect x="501.7" y="751.3" width="6.3" height="10.4" fill="#8a9bca"/>
<rect x="522.7" y="751.3" width="4" height="10.4" fill="#8a9bca"/>
<rect x="543" y="751.3" width="5.2" height="10.4" fill="#8a9bca"/>
<rect x="550.9" y="751.3" width="1.8" height="10.4" fill="#8a9bca"/>
<rect x="571.9" y="751.3" width="1.8" height="10.4" fill="#8a9bca"/>
<rect x="589.7" y="751.3" width="1.9" height="10.4" fill="#8a9bca"/>
<text x="525.4" y="741" font-size="9.7" text-anchor="middle" font-weight="normal" font-style="italic" fill="#222" >pon2-like</text>
<text x="93.2" y="739.9" font-size="9.8" fill="#222"><tspan font-style="italic">twai (tesDw</tspan> type a inserted)</text>
<text x="228.8" y="771.3" font-size="9.8" text-anchor="middle" font-weight="normal" font-style="normal" fill="#222" >insertion exon</text>
<line x1="226.3" y1="761" x2="225.3" y2="766" stroke="#333" stroke-width="0.7"/>
<path d="M235.00 751.60 L234.70 744.17 L232.59 745.85 L228.43 740.64 L225.77 742.76 L229.93 747.97 L227.82 749.65 Z" fill="#d8261a"/>
</svg></body></html>
